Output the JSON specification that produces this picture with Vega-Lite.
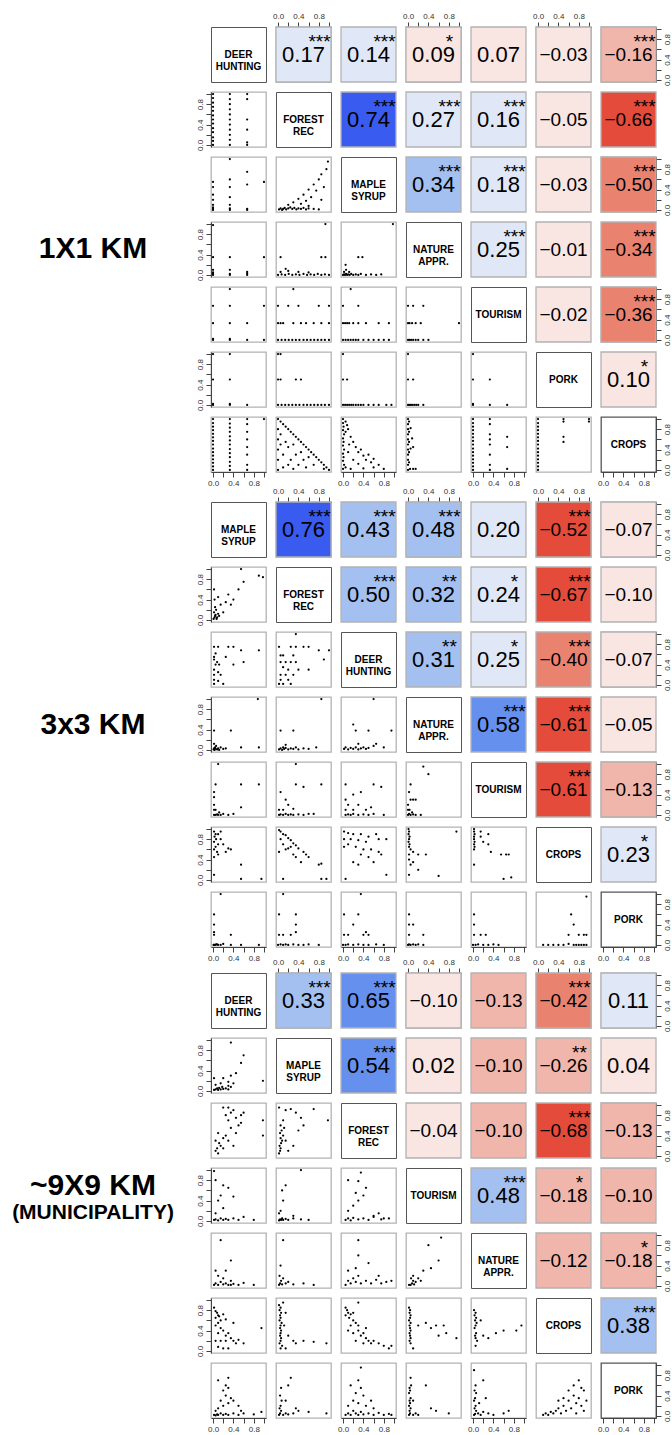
{
"$schema":"https://vega.github.io/schema/vega-lite/v6.json",
"padding":{"left":5,"top":11,"right":5,"bottom":0},
"config":{
"font":"Liberation Sans",
"view":{"continuousWidth":55,"continuousHeight":55,"discreteWidth":55,"discreteHeight":55,"stroke":"#b3b3b3","strokeWidth":1.3,"fill":"white"},
"axis":{"disable":true,"grid":false,"tickCount":6,"labelFontSize":8,"labelColor":"#333","tickColor":"#444","domainColor":"#444","tickSize":5,"labelPadding":2,"labelFlush":false},
"axisY":{"labelAngle":-90,"labelAlign":"center"},
"axisLeft":{"labelBaseline":"bottom"},
"axisRight":{"labelBaseline":"top"},
"legend":{"disable":true},
"rect":{"stroke":"#b3b3b3","strokeWidth":1.3},
"circle":{"size":5,"color":"#000","opacity":1},
"style":{
"vp":{"fontSize":22},
"vn":{"fontSize":19},
"st":{"fontSize":19,"dx":16,"dy":-13},
"lb":{"fontSize":10,"fontWeight":"bold","lineBreak":"\n","lineHeight":12},
"big":{"fontSize":30,"fontWeight":"bold"},
"sub":{"fontSize":21,"fontWeight":"bold","dy":27}
}
},
"datasets":{
"a11":[{"lab":"DEER\nHUNTING"}],
"a12":[{"r":0.17,"s":"***"}],
"a13":[{"r":0.14,"s":"***"}],
"a14":[{"r":0.09,"s":"*"}],
"a15":[{"r":0.07}],
"a16":[{"r":-0.03}],
"a17":[{"r":-0.16,"s":"***"}],
"a22":[{"lab":"FOREST\nREC"}],
"a23":[{"r":0.74,"s":"***"}],
"a24":[{"r":0.27,"s":"***"}],
"a25":[{"r":0.16,"s":"***"}],
"a26":[{"r":-0.05}],
"a27":[{"r":-0.66,"s":"***"}],
"a33":[{"lab":"MAPLE\nSYRUP"}],
"a34":[{"r":0.34,"s":"***"}],
"a35":[{"r":0.18,"s":"***"}],
"a36":[{"r":-0.03}],
"a37":[{"r":-0.497,"s":"***"}],
"a44":[{"lab":"NATURE\nAPPR."}],
"a45":[{"r":0.25,"s":"***"}],
"a46":[{"r":-0.01}],
"a47":[{"r":-0.34,"s":"***"}],
"a55":[{"lab":"TOURISM"}],
"a56":[{"r":-0.02}],
"a57":[{"r":-0.36,"s":"***"}],
"a66":[{"lab":"PORK"}],
"a67":[{"r":0.098,"s":"*"}],
"a77":[{"lab":"CROPS"}],
"b11":[{"lab":"MAPLE\nSYRUP"}],
"b12":[{"r":0.76,"s":"***"}],
"b13":[{"r":0.43,"s":"***"}],
"b14":[{"r":0.48,"s":"***"}],
"b15":[{"r":0.2,"s":"."}],
"b16":[{"r":-0.52,"s":"***"}],
"b17":[{"r":-0.07}],
"b22":[{"lab":"FOREST\nREC"}],
"b23":[{"r":0.497,"s":"***"}],
"b24":[{"r":0.32,"s":"**"}],
"b25":[{"r":0.24,"s":"*"}],
"b26":[{"r":-0.67,"s":"***"}],
"b27":[{"r":-0.098}],
"b33":[{"lab":"DEER\nHUNTING"}],
"b34":[{"r":0.31,"s":"**"}],
"b35":[{"r":0.25,"s":"*"}],
"b36":[{"r":-0.4,"s":"***"}],
"b37":[{"r":-0.07}],
"b44":[{"lab":"NATURE\nAPPR."}],
"b45":[{"r":0.58,"s":"***"}],
"b46":[{"r":-0.61,"s":"***"}],
"b47":[{"r":-0.05}],
"b55":[{"lab":"TOURISM"}],
"b56":[{"r":-0.61,"s":"***"}],
"b57":[{"r":-0.13}],
"b66":[{"lab":"CROPS"}],
"b67":[{"r":0.23,"s":"*"}],
"b77":[{"lab":"PORK"}],
"c11":[{"lab":"DEER\nHUNTING"}],
"c12":[{"r":0.33,"s":"***"}],
"c13":[{"r":0.65,"s":"***"}],
"c14":[{"r":-0.098}],
"c15":[{"r":-0.13}],
"c16":[{"r":-0.42,"s":"***"}],
"c17":[{"r":0.11}],
"c22":[{"lab":"MAPLE\nSYRUP"}],
"c23":[{"r":0.54,"s":"***"}],
"c24":[{"r":0.02}],
"c25":[{"r":-0.102}],
"c26":[{"r":-0.26,"s":"**"}],
"c27":[{"r":0.04}],
"c33":[{"lab":"FOREST\nREC"}],
"c34":[{"r":-0.04}],
"c35":[{"r":-0.102}],
"c36":[{"r":-0.68,"s":"***"}],
"c37":[{"r":-0.13}],
"c44":[{"lab":"TOURISM"}],
"c45":[{"r":0.48,"s":"***"}],
"c46":[{"r":-0.18,"s":"*"}],
"c47":[{"r":-0.102}],
"c55":[{"lab":"NATURE\nAPPR."}],
"c56":[{"r":-0.12}],
"c57":[{"r":-0.18,"s":"*"}],
"c66":[{"lab":"CROPS"}],
"c67":[{"r":0.38,"s":"***"}],
"c77":[{"lab":"PORK"}],
"a21":[{"x":0,"y":0},{"x":0,"y":0.08},{"x":0,"y":0.15},{"x":0,"y":0.25},{"x":0,"y":0.33},{"x":0,"y":0.42},{"x":0,"y":0.5},{"x":0,"y":0.58},{"x":0,"y":0.67},{"x":0,"y":0.75},{"x":0,"y":0.83},{"x":0,"y":0.92},{"x":0,"y":1},{"x":0.33,"y":0},{"x":0.33,"y":0.1},{"x":0.33,"y":0.2},{"x":0.33,"y":0.3},{"x":0.33,"y":0.4},{"x":0.33,"y":0.5},{"x":0.33,"y":0.6},{"x":0.33,"y":0.7},{"x":0.33,"y":0.8},{"x":0.33,"y":0.9},{"x":0.33,"y":1},{"x":0.67,"y":0},{"x":0.67,"y":0.05},{"x":0.67,"y":0.3},{"x":0.67,"y":0.5},{"x":0.67,"y":0.9},{"x":0.67,"y":1}],
"a31":[{"x":0,"y":0},{"x":0,"y":0.02},{"x":0,"y":0.05},{"x":0,"y":0.1},{"x":0,"y":0.2},{"x":0,"y":0.3},{"x":0,"y":0.45},{"x":0,"y":0.55},{"x":0.33,"y":0},{"x":0.33,"y":0.03},{"x":0.33,"y":0.1},{"x":0.33,"y":0.25},{"x":0.33,"y":0.45},{"x":0.33,"y":0.6},{"x":0.33,"y":1},{"x":0.67,"y":0},{"x":0.67,"y":0.02},{"x":0.67,"y":0.5},{"x":0.67,"y":0.75},{"x":1,"y":0.55}],
"a32":[{"x":0.02,"y":0.01},{"x":0.05,"y":0.03},{"x":0.08,"y":0},{"x":0.1,"y":0.02},{"x":0.13,"y":0.04},{"x":0.16,"y":0.01},{"x":0.2,"y":0.03},{"x":0.24,"y":0.05},{"x":0.28,"y":0.02},{"x":0.32,"y":0.04},{"x":0.36,"y":0.01},{"x":0.4,"y":0.03},{"x":0.45,"y":0.02},{"x":0.5,"y":0.04},{"x":0.55,"y":0.01},{"x":0.6,"y":0.03},{"x":0.7,"y":0.02},{"x":0.8,"y":0.01},{"x":0.2,"y":0.1},{"x":0.3,"y":0.15},{"x":0.4,"y":0.22},{"x":0.45,"y":0.12},{"x":0.5,"y":0.3},{"x":0.55,"y":0.18},{"x":0.6,"y":0.4},{"x":0.65,"y":0.25},{"x":0.7,"y":0.5},{"x":0.75,"y":0.38},{"x":0.8,"y":0.6},{"x":0.85,"y":0.7},{"x":0.9,"y":0.45},{"x":0.95,"y":0.8},{"x":0.98,"y":0.95},{"x":0.85,"y":0.2},{"x":0.6,"y":0.08}],
"a41":[{"x":0,"y":0},{"x":0,"y":0.02},{"x":0,"y":0.05},{"x":0,"y":0.1},{"x":0,"y":0.35},{"x":0,"y":0.98},{"x":0.33,"y":0},{"x":0.33,"y":0.02},{"x":0.33,"y":0.1},{"x":0.33,"y":0.35},{"x":0.67,"y":0},{"x":0.67,"y":0.03},{"x":0.67,"y":0.06},{"x":1,"y":0.35}],
"a42":[{"x":0,"y":0},{"x":0.07,"y":0.01},{"x":0.14,"y":0},{"x":0.21,"y":0.02},{"x":0.28,"y":0},{"x":0.35,"y":0.01},{"x":0.42,"y":0},{"x":0.5,"y":0.02},{"x":0.57,"y":0},{"x":0.64,"y":0.01},{"x":0.71,"y":0},{"x":0.78,"y":0.02},{"x":0.85,"y":0},{"x":0.92,"y":0.01},{"x":1,"y":0},{"x":0.05,"y":0.06},{"x":0.2,"y":0.08},{"x":0.4,"y":0.06},{"x":0.6,"y":0.05},{"x":0.15,"y":0.12},{"x":0.05,"y":0.35},{"x":0.85,"y":0.35},{"x":0.93,"y":0.35},{"x":0.93,"y":1}],
"a43":[{"x":0,"y":0},{"x":0.02,"y":0.01},{"x":0.04,"y":0},{"x":0.06,"y":0.02},{"x":0.08,"y":0},{"x":0.1,"y":0.01},{"x":0.13,"y":0},{"x":0.16,"y":0.02},{"x":0.2,"y":0},{"x":0.25,"y":0.01},{"x":0.3,"y":0},{"x":0.35,"y":0.02},{"x":0.45,"y":0},{"x":0.55,"y":0.01},{"x":0.65,"y":0},{"x":0.75,"y":0.01},{"x":0.02,"y":0.06},{"x":0.06,"y":0.1},{"x":0.12,"y":0.06},{"x":0.3,"y":0.35},{"x":0.38,"y":0.35},{"x":0.05,"y":0.2},{"x":0.98,"y":1}],
"a51":[{"x":0,"y":0},{"x":0.33,"y":0},{"x":0.67,"y":0},{"x":1,"y":0},{"x":0,"y":0.02},{"x":0.33,"y":0.02},{"x":0,"y":0.33},{"x":0.33,"y":0.33},{"x":0.67,"y":0.33},{"x":0,"y":0.67},{"x":0.33,"y":0.67},{"x":1,"y":0.67},{"x":0.33,"y":1}],
"a52":[{"x":0,"y":0},{"x":0.07,"y":0},{"x":0.14,"y":0},{"x":0.21,"y":0},{"x":0.28,"y":0},{"x":0.35,"y":0},{"x":0.42,"y":0},{"x":0.5,"y":0},{"x":0.57,"y":0},{"x":0.64,"y":0},{"x":0.71,"y":0},{"x":0.78,"y":0},{"x":0.85,"y":0},{"x":0.92,"y":0},{"x":1,"y":0},{"x":0,"y":0.33},{"x":0.05,"y":0.33},{"x":0.1,"y":0.33},{"x":0.3,"y":0.33},{"x":0.45,"y":0.33},{"x":0.55,"y":0.33},{"x":0.7,"y":0.33},{"x":0.85,"y":0.33},{"x":1,"y":0.33},{"x":0,"y":0.67},{"x":0.2,"y":0.67},{"x":0.4,"y":0.67},{"x":0.8,"y":0.67},{"x":1,"y":0.67},{"x":0.3,"y":1}],
"a53":[{"x":0,"y":0},{"x":0.05,"y":0},{"x":0.1,"y":0},{"x":0.15,"y":0},{"x":0.2,"y":0},{"x":0.25,"y":0},{"x":0.3,"y":0},{"x":0.4,"y":0},{"x":0.5,"y":0},{"x":0.6,"y":0},{"x":0.7,"y":0},{"x":0.8,"y":0},{"x":0.9,"y":0},{"x":0,"y":0.33},{"x":0.04,"y":0.33},{"x":0.08,"y":0.33},{"x":0.12,"y":0.33},{"x":0.2,"y":0.33},{"x":0.3,"y":0.33},{"x":0.45,"y":0.33},{"x":0.7,"y":0.33},{"x":0.9,"y":0.33},{"x":0,"y":0.67},{"x":0.3,"y":0.67},{"x":0.15,"y":1}],
"a54":[{"x":0,"y":0},{"x":0.03,"y":0},{"x":0.06,"y":0},{"x":0.1,"y":0},{"x":0.15,"y":0},{"x":0.2,"y":0},{"x":0.3,"y":0},{"x":0.4,"y":0},{"x":0,"y":0.33},{"x":0.03,"y":0.33},{"x":0.08,"y":0.33},{"x":0.15,"y":0.33},{"x":0.25,"y":0.33},{"x":1,"y":0.33},{"x":0,"y":0.67},{"x":0.1,"y":0.67},{"x":0.3,"y":0.67}],
"a61":[{"x":0,"y":0},{"x":0,"y":0.02},{"x":0.33,"y":0},{"x":0.33,"y":0.02},{"x":0.67,"y":0},{"x":0,"y":0.5},{"x":0.33,"y":0.5},{"x":0,"y":1},{"x":0.33,"y":1}],
"a62":[{"x":0,"y":0},{"x":0.07,"y":0},{"x":0.14,"y":0},{"x":0.21,"y":0},{"x":0.28,"y":0},{"x":0.35,"y":0},{"x":0.42,"y":0},{"x":0.5,"y":0},{"x":0.57,"y":0},{"x":0.64,"y":0},{"x":0.71,"y":0},{"x":0.78,"y":0},{"x":0.85,"y":0},{"x":0.92,"y":0},{"x":1,"y":0},{"x":0,"y":0.5},{"x":0.05,"y":0.5},{"x":0.35,"y":0.5},{"x":0.45,"y":0.5},{"x":0,"y":1},{"x":0.05,"y":1}],
"a63":[{"x":0,"y":0},{"x":0.04,"y":0},{"x":0.08,"y":0},{"x":0.12,"y":0},{"x":0.16,"y":0},{"x":0.2,"y":0},{"x":0.25,"y":0},{"x":0.3,"y":0},{"x":0.35,"y":0},{"x":0.4,"y":0},{"x":0.5,"y":0},{"x":0.6,"y":0},{"x":0.7,"y":0},{"x":0.85,"y":0},{"x":0.95,"y":0},{"x":0,"y":0.5},{"x":0.08,"y":0.5},{"x":0,"y":1}],
"a64":[{"x":0,"y":0},{"x":0.02,"y":0},{"x":0.05,"y":0},{"x":0.08,"y":0},{"x":0.12,"y":0},{"x":0.16,"y":0},{"x":0.2,"y":0},{"x":0.3,"y":0},{"x":0,"y":0.5},{"x":0.1,"y":0.5},{"x":0,"y":1}],
"a65":[{"x":0,"y":0},{"x":0,"y":0.02},{"x":0.33,"y":0},{"x":0.67,"y":0},{"x":0,"y":0.5},{"x":0.33,"y":0.5},{"x":0,"y":1}],
"a71":[{"x":0,"y":0},{"x":0,"y":0.07},{"x":0,"y":0.14},{"x":0,"y":0.21},{"x":0,"y":0.28},{"x":0,"y":0.35},{"x":0,"y":0.42},{"x":0,"y":0.5},{"x":0,"y":0.57},{"x":0,"y":0.64},{"x":0,"y":0.71},{"x":0,"y":0.78},{"x":0,"y":0.85},{"x":0,"y":0.92},{"x":0,"y":1},{"x":0.33,"y":0},{"x":0.33,"y":0.08},{"x":0.33,"y":0.16},{"x":0.33,"y":0.25},{"x":0.33,"y":0.33},{"x":0.33,"y":0.41},{"x":0.33,"y":0.5},{"x":0.33,"y":0.58},{"x":0.33,"y":0.66},{"x":0.33,"y":0.75},{"x":0.33,"y":0.83},{"x":0.33,"y":0.91},{"x":0.33,"y":1},{"x":0.67,"y":0},{"x":0.67,"y":0.1},{"x":0.67,"y":0.3},{"x":0.67,"y":0.45},{"x":0.67,"y":0.6},{"x":0.67,"y":0.75},{"x":0.67,"y":0.9},{"x":0.67,"y":1},{"x":1,"y":1}],
"a72":[{"x":0,"y":1},{"x":0.05,"y":0.95},{"x":0.1,"y":0.9},{"x":0.15,"y":0.85},{"x":0.2,"y":0.8},{"x":0.25,"y":0.75},{"x":0.3,"y":0.7},{"x":0.35,"y":0.65},{"x":0.4,"y":0.6},{"x":0.45,"y":0.55},{"x":0.5,"y":0.5},{"x":0.55,"y":0.45},{"x":0.6,"y":0.4},{"x":0.65,"y":0.35},{"x":0.7,"y":0.3},{"x":0.75,"y":0.25},{"x":0.8,"y":0.2},{"x":0.85,"y":0.15},{"x":0.9,"y":0.1},{"x":0.95,"y":0.05},{"x":1,"y":0},{"x":0,"y":0.8},{"x":0,"y":0.6},{"x":0,"y":0.4},{"x":0,"y":0.2},{"x":0,"y":0},{"x":0.05,"y":0.7},{"x":0.1,"y":0.3},{"x":0.15,"y":0.55},{"x":0.2,"y":0.45},{"x":0.25,"y":0.2},{"x":0.3,"y":0.5},{"x":0.35,"y":0.3},{"x":0.4,"y":0.1},{"x":0.45,"y":0.35},{"x":0.5,"y":0.2},{"x":0.55,"y":0.05},{"x":0.6,"y":0.25},{"x":0.7,"y":0.1},{"x":0.1,"y":0.05},{"x":0.2,"y":0.1},{"x":0.3,"y":0.02},{"x":0.9,"y":0.02},{"x":0.05,"y":0.5}],
"a73":[{"x":0,"y":1},{"x":0,"y":0.92},{"x":0.01,"y":0.85},{"x":0,"y":0.78},{"x":0.02,"y":0.7},{"x":0,"y":0.62},{"x":0.01,"y":0.55},{"x":0,"y":0.48},{"x":0.02,"y":0.4},{"x":0,"y":0.32},{"x":0.01,"y":0.25},{"x":0,"y":0.18},{"x":0.02,"y":0.1},{"x":0,"y":0.02},{"x":0.05,"y":0.95},{"x":0.08,"y":0.88},{"x":0.05,"y":0.75},{"x":0.1,"y":0.8},{"x":0.15,"y":0.65},{"x":0.12,"y":0.5},{"x":0.2,"y":0.55},{"x":0.25,"y":0.45},{"x":0.3,"y":0.35},{"x":0.35,"y":0.4},{"x":0.4,"y":0.28},{"x":0.45,"y":0.2},{"x":0.5,"y":0.3},{"x":0.55,"y":0.15},{"x":0.6,"y":0.22},{"x":0.7,"y":0.1},{"x":0.2,"y":0.2},{"x":0.3,"y":0.12},{"x":0.1,"y":0.35},{"x":0.05,"y":0.05},{"x":0.15,"y":0.02},{"x":0.4,"y":0.03},{"x":0.8,"y":0.02},{"x":0.6,"y":0.05}],
"a74":[{"x":0,"y":1},{"x":0,"y":0.9},{"x":0,"y":0.8},{"x":0,"y":0.7},{"x":0,"y":0.6},{"x":0,"y":0.5},{"x":0,"y":0.4},{"x":0,"y":0.3},{"x":0,"y":0.2},{"x":0,"y":0.1},{"x":0,"y":0},{"x":0.02,"y":0.95},{"x":0.02,"y":0.75},{"x":0.02,"y":0.55},{"x":0.02,"y":0.35},{"x":0.02,"y":0.15},{"x":0.05,"y":0.42},{"x":0.1,"y":0.45},{"x":0.08,"y":0.62},{"x":0.1,"y":0.02},{"x":0.15,"y":0.02},{"x":0.05,"y":0.82},{"x":0.04,"y":0.02}],
"a75":[{"x":0,"y":0},{"x":0,"y":0.07},{"x":0,"y":0.14},{"x":0,"y":0.21},{"x":0,"y":0.28},{"x":0,"y":0.35},{"x":0,"y":0.42},{"x":0,"y":0.5},{"x":0,"y":0.57},{"x":0,"y":0.64},{"x":0,"y":0.71},{"x":0,"y":0.78},{"x":0,"y":0.85},{"x":0,"y":0.92},{"x":0,"y":1},{"x":0.33,"y":0},{"x":0.33,"y":0.1},{"x":0.33,"y":0.3},{"x":0.33,"y":0.5},{"x":0.33,"y":0.6},{"x":0.33,"y":0.7},{"x":0.33,"y":0.9},{"x":0.33,"y":1},{"x":0.67,"y":0.02},{"x":0.67,"y":0.45},{"x":0.67,"y":0.65}],
"a76":[{"x":0,"y":0},{"x":0,"y":0.07},{"x":0,"y":0.14},{"x":0,"y":0.21},{"x":0,"y":0.28},{"x":0,"y":0.35},{"x":0,"y":0.42},{"x":0,"y":0.5},{"x":0,"y":0.57},{"x":0,"y":0.64},{"x":0,"y":0.71},{"x":0,"y":0.78},{"x":0,"y":0.85},{"x":0,"y":0.92},{"x":0,"y":1},{"x":0.5,"y":0.55},{"x":0.5,"y":0.65},{"x":0.5,"y":0.95},{"x":0.5,"y":1},{"x":1,"y":0.95},{"x":1,"y":1}],
"b21":[{"x":0.01,"y":0.02},{"x":0.03,"y":0.05},{"x":0.05,"y":0.1},{"x":0.02,"y":0.15},{"x":0.06,"y":0.2},{"x":0.08,"y":0.05},{"x":0.1,"y":0.12},{"x":0.04,"y":0.25},{"x":0.12,"y":0.08},{"x":0.15,"y":0.3},{"x":0.03,"y":0.4},{"x":0.2,"y":0.15},{"x":0.25,"y":0.35},{"x":0.3,"y":0.5},{"x":0.35,"y":0.3},{"x":0.4,"y":0.4},{"x":0.5,"y":0.6},{"x":0.55,"y":1},{"x":0.6,"y":0.75},{"x":0.9,"y":0.87},{"x":0.98,"y":0.84},{"x":0.02,"y":0.6},{"x":0.1,"y":0.45},{"x":0.07,"y":0.02},{"x":0.04,"y":0.08}],
"b31":[{"x":0.02,"y":0.75},{"x":0.1,"y":0.75},{"x":0.3,"y":0.75},{"x":0.4,"y":0.75},{"x":0.55,"y":0.68},{"x":0.9,"y":0.68},{"x":0.02,"y":0.55},{"x":0.02,"y":0.5},{"x":0.08,"y":0.45},{"x":0.05,"y":0.4},{"x":0.12,"y":0.4},{"x":0.4,"y":0.4},{"x":0.02,"y":0.3},{"x":0.1,"y":0.25},{"x":0.02,"y":0.2},{"x":0.15,"y":0.2},{"x":0.02,"y":0.1},{"x":0.1,"y":0.08},{"x":0.02,"y":0.02},{"x":0.2,"y":0.02},{"x":0.6,"y":0.45},{"x":0.05,"y":0.62},{"x":0.25,"y":0.55}],
"b32":[{"x":0.02,"y":0.75},{"x":0.25,"y":0.75},{"x":0.35,"y":0.75},{"x":0.5,"y":0.75},{"x":0.6,"y":0.75},{"x":0.8,"y":0.68},{"x":1,"y":0.68},{"x":0.05,"y":0.58},{"x":0.1,"y":0.58},{"x":0.3,"y":0.58},{"x":0.05,"y":0.45},{"x":0.15,"y":0.45},{"x":0.25,"y":0.45},{"x":0.35,"y":0.45},{"x":0.1,"y":0.35},{"x":0.2,"y":0.3},{"x":0.4,"y":0.3},{"x":0.05,"y":0.2},{"x":0.15,"y":0.2},{"x":0.3,"y":0.2},{"x":0.05,"y":0.1},{"x":0.2,"y":0.1},{"x":0.02,"y":0.02},{"x":0.1,"y":0.02},{"x":0.25,"y":0.02},{"x":0.6,"y":0.3},{"x":0.9,"y":0.5},{"x":0.35,"y":1}],
"b41":[{"x":0.01,"y":0.01},{"x":0.02,"y":0.03},{"x":0.03,"y":0},{"x":0.04,"y":0.05},{"x":0.05,"y":0.02},{"x":0.06,"y":0.08},{"x":0.08,"y":0.01},{"x":0.1,"y":0.03},{"x":0.12,"y":0},{"x":0.15,"y":0.05},{"x":0.2,"y":0.02},{"x":0.25,"y":0.03},{"x":0.35,"y":0.38},{"x":0.02,"y":0.38},{"x":0.55,"y":0.05},{"x":0.9,"y":0.05},{"x":0.88,"y":1},{"x":0.02,"y":0.12}],
"b42":[{"x":0.02,"y":0.01},{"x":0.05,"y":0.03},{"x":0.08,"y":0},{"x":0.1,"y":0.05},{"x":0.12,"y":0.02},{"x":0.15,"y":0.04},{"x":0.2,"y":0.01},{"x":0.25,"y":0.03},{"x":0.3,"y":0.02},{"x":0.35,"y":0.05},{"x":0.4,"y":0.01},{"x":0.5,"y":0.03},{"x":0.6,"y":0.02},{"x":0.75,"y":0.05},{"x":0.3,"y":0.38},{"x":0.05,"y":0.38},{"x":0.85,"y":1},{"x":0.15,"y":0.1}],
"b43":[{"x":0.02,"y":0.02},{"x":0.05,"y":0.05},{"x":0.1,"y":0.01},{"x":0.15,"y":0.04},{"x":0.2,"y":0.02},{"x":0.25,"y":0.05},{"x":0.3,"y":0.01},{"x":0.35,"y":0.03},{"x":0.4,"y":0.05},{"x":0.45,"y":0.02},{"x":0.5,"y":0.04},{"x":0.6,"y":0.08},{"x":0.8,"y":0.05},{"x":0.25,"y":0.38},{"x":0.5,"y":0.38},{"x":0.2,"y":0.5},{"x":0.6,"y":1},{"x":0.95,"y":0.38},{"x":0.65,"y":0.12},{"x":0.3,"y":0.12}],
"b51":[{"x":0.02,"y":0},{"x":0.05,"y":0},{"x":0.08,"y":0.01},{"x":0.1,"y":0},{"x":0.15,"y":0},{"x":0.3,"y":0},{"x":0.4,"y":0.02},{"x":0.02,"y":0.1},{"x":0.05,"y":0.1},{"x":0.02,"y":0.2},{"x":0.02,"y":0.35},{"x":0.05,"y":0.6},{"x":0.55,"y":0.6},{"x":0.9,"y":0.6},{"x":0.55,"y":0.15},{"x":0.1,"y":1},{"x":0.02,"y":0.45},{"x":0.2,"y":0.02},{"x":0.12,"y":0.05}],
"b52":[{"x":0.02,"y":0},{"x":0.05,"y":0.01},{"x":0.1,"y":0},{"x":0.15,"y":0.02},{"x":0.2,"y":0},{"x":0.25,"y":0.01},{"x":0.3,"y":0},{"x":0.4,"y":0.01},{"x":0.5,"y":0},{"x":0.6,"y":0.02},{"x":0.02,"y":0.1},{"x":0.1,"y":0.1},{"x":0.2,"y":0.2},{"x":0.15,"y":0.3},{"x":0.5,"y":0.55},{"x":0.85,"y":0.6},{"x":0.35,"y":0.6},{"x":0.35,"y":1},{"x":0.05,"y":0.45},{"x":0.3,"y":0.12},{"x":0.7,"y":0.02}],
"b53":[{"x":0.05,"y":0},{"x":0.1,"y":0.01},{"x":0.15,"y":0},{"x":0.2,"y":0.02},{"x":0.3,"y":0},{"x":0.4,"y":0.01},{"x":0.5,"y":0},{"x":0.6,"y":0.02},{"x":0.8,"y":0},{"x":0.05,"y":0.1},{"x":0.2,"y":0.1},{"x":0.3,"y":0.2},{"x":0.05,"y":0.3},{"x":0.2,"y":0.4},{"x":0.35,"y":0.45},{"x":0.6,"y":0.6},{"x":0.75,"y":0.55},{"x":0.05,"y":0.6},{"x":0.45,"y":0.1},{"x":0.55,"y":0.15},{"x":0.1,"y":0.2}],
"b54":[{"x":0,"y":0},{"x":0.02,"y":0.02},{"x":0.05,"y":0},{"x":0.1,"y":0.01},{"x":0.15,"y":0},{"x":0.25,"y":0},{"x":0,"y":0.1},{"x":0.03,"y":0.1},{"x":0,"y":0.2},{"x":0.05,"y":0.3},{"x":0.1,"y":0.3},{"x":0.15,"y":0.3},{"x":0.05,"y":0.6},{"x":0.4,"y":0.8},{"x":0.3,"y":0.95},{"x":0.02,"y":0.45},{"x":0.08,"y":0.05}],
"b61":[{"x":0.02,"y":0.95},{"x":0.05,"y":0.9},{"x":0.03,"y":0.85},{"x":0.06,"y":0.8},{"x":0.02,"y":0.75},{"x":0.1,"y":0.7},{"x":0.05,"y":0.65},{"x":0.02,"y":0.6},{"x":0.15,"y":0.8},{"x":0.2,"y":0.7},{"x":0.3,"y":0.62},{"x":0.35,"y":0.6},{"x":0.25,"y":0.55},{"x":0.1,"y":0.5},{"x":0.02,"y":0.45},{"x":0.55,"y":0.3},{"x":0.95,"y":0.02},{"x":0.55,"y":0.02},{"x":0.02,"y":0.1},{"x":0.1,"y":0.9},{"x":0.15,"y":0.95},{"x":0.08,"y":0.55}],
"b62":[{"x":0.02,"y":0.98},{"x":0.05,"y":0.95},{"x":0.1,"y":0.9},{"x":0.15,"y":0.88},{"x":0.2,"y":0.82},{"x":0.25,"y":0.78},{"x":0.3,"y":0.72},{"x":0.35,"y":0.68},{"x":0.4,"y":0.62},{"x":0.5,"y":0.55},{"x":0.55,"y":0.5},{"x":0.6,"y":0.45},{"x":0.05,"y":0.8},{"x":0.1,"y":0.7},{"x":0.15,"y":0.6},{"x":0.2,"y":0.62},{"x":0.3,"y":0.5},{"x":0.02,"y":0.55},{"x":0.8,"y":0.3},{"x":0.85,"y":0.32},{"x":0.45,"y":0.35},{"x":0.95,"y":0.02},{"x":0.85,"y":0.02},{"x":0.1,"y":0.02},{"x":0.35,"y":0.45},{"x":0.25,"y":0.65}],
"b63":[{"x":0.02,"y":0.95},{"x":0.1,"y":0.92},{"x":0.2,"y":0.9},{"x":0.35,"y":0.9},{"x":0.5,"y":0.85},{"x":0.65,"y":0.9},{"x":0.02,"y":0.8},{"x":0.15,"y":0.8},{"x":0.3,"y":0.78},{"x":0.45,"y":0.75},{"x":0.7,"y":0.8},{"x":0.85,"y":0.8},{"x":0.02,"y":0.65},{"x":0.1,"y":0.7},{"x":0.25,"y":0.65},{"x":0.4,"y":0.6},{"x":0.55,"y":0.6},{"x":0.7,"y":0.55},{"x":0.35,"y":0.5},{"x":0.5,"y":0.45},{"x":0.75,"y":0.5},{"x":0.2,"y":0.35},{"x":0.3,"y":0.3},{"x":0.05,"y":0.02},{"x":0.85,"y":0.1},{"x":0.6,"y":0.35}],
"b64":[{"x":0.01,"y":1},{"x":0.02,"y":0.95},{"x":0.01,"y":0.9},{"x":0.03,"y":0.85},{"x":0.02,"y":0.8},{"x":0.01,"y":0.75},{"x":0.03,"y":0.7},{"x":0.02,"y":0.65},{"x":0.05,"y":0.6},{"x":0.02,"y":0.5},{"x":0.2,"y":0.5},{"x":0.35,"y":0.5},{"x":0.1,"y":0.35},{"x":0.05,"y":0.3},{"x":0.2,"y":0.2},{"x":0.02,"y":0.1},{"x":0.6,"y":0.08},{"x":0.95,"y":0.95},{"x":0.1,"y":0.55},{"x":0.02,"y":0.4}],
"b65":[{"x":0.02,"y":1},{"x":0.02,"y":0.95},{"x":0.03,"y":0.9},{"x":0.02,"y":0.85},{"x":0.02,"y":0.8},{"x":0.03,"y":0.75},{"x":0.02,"y":0.7},{"x":0.03,"y":0.65},{"x":0.02,"y":0.6},{"x":0.15,"y":0.95},{"x":0.3,"y":0.9},{"x":0.15,"y":0.85},{"x":0.2,"y":0.75},{"x":0.3,"y":0.7},{"x":0.35,"y":0.55},{"x":0.55,"y":0.5},{"x":0.65,"y":0.5},{"x":0.7,"y":0.5},{"x":0.02,"y":0.3},{"x":0.6,"y":0.02},{"x":0.75,"y":0.05}],
"b71":[{"x":0.01,"y":0},{"x":0.02,"y":0},{"x":0.04,"y":0},{"x":0.06,"y":0.01},{"x":0.1,"y":0},{"x":0.15,"y":0},{"x":0.2,"y":0.02},{"x":0.35,"y":0},{"x":0.55,"y":0},{"x":0.9,"y":0},{"x":0.02,"y":0.2},{"x":0.02,"y":0.4},{"x":0.02,"y":0.6},{"x":0.35,"y":0.2},{"x":0.02,"y":0.25},{"x":0.15,"y":1},{"x":0.08,"y":0.01}],
"b72":[{"x":0,"y":0},{"x":0.05,"y":0.01},{"x":0.1,"y":0},{"x":0.15,"y":0.01},{"x":0.2,"y":0},{"x":0.3,"y":0.01},{"x":0.4,"y":0},{"x":0.5,"y":0},{"x":0.6,"y":0.01},{"x":0.8,"y":0},{"x":0.02,"y":0.2},{"x":0.1,"y":0.2},{"x":0.25,"y":0.2},{"x":0.35,"y":0.4},{"x":0.35,"y":0.25},{"x":0.35,"y":0.6},{"x":0.02,"y":0.6},{"x":0.1,"y":1}],
"b73":[{"x":0,"y":0},{"x":0.05,"y":0},{"x":0.1,"y":0.01},{"x":0.2,"y":0},{"x":0.3,"y":0.01},{"x":0.4,"y":0},{"x":0.5,"y":0},{"x":0.65,"y":0.01},{"x":0.8,"y":0},{"x":0.02,"y":0.2},{"x":0.1,"y":0.2},{"x":0.2,"y":0.4},{"x":0.3,"y":0.6},{"x":0.4,"y":0.2},{"x":0.45,"y":0.25},{"x":0.5,"y":0.2},{"x":0.35,"y":1},{"x":0.02,"y":0.6}],
"b74":[{"x":0,"y":0},{"x":0.02,"y":0.01},{"x":0.05,"y":0},{"x":0.1,"y":0.01},{"x":0.15,"y":0},{"x":0.2,"y":0.01},{"x":0.3,"y":0},{"x":0.02,"y":0.2},{"x":0.02,"y":0.4},{"x":0.02,"y":0.6},{"x":0.3,"y":0.2},{"x":0.1,"y":0.4}],
"b75":[{"x":0,"y":0},{"x":0.05,"y":0},{"x":0.1,"y":0.01},{"x":0.2,"y":0},{"x":0.3,"y":0},{"x":0.4,"y":0.01},{"x":0.5,"y":0},{"x":0.02,"y":0.6},{"x":0.02,"y":0.4},{"x":0.15,"y":0.2},{"x":0.25,"y":0.2},{"x":0.02,"y":0.2}],
"b76":[{"x":0.1,"y":0},{"x":0.2,"y":0},{"x":0.3,"y":0},{"x":0.4,"y":0},{"x":0.5,"y":0},{"x":0.6,"y":0.02},{"x":0.7,"y":0},{"x":0.75,"y":0},{"x":0.8,"y":0},{"x":0.85,"y":0},{"x":0.9,"y":0},{"x":0.95,"y":0},{"x":0.6,"y":0.2},{"x":0.8,"y":0.2},{"x":0.9,"y":0.2},{"x":0.95,"y":0.2},{"x":0.7,"y":0.4},{"x":0.65,"y":0.6},{"x":0.95,"y":0.95}],
"c21":[{"x":0.02,"y":0.02},{"x":0.05,"y":0.03},{"x":0.08,"y":0.05},{"x":0.1,"y":0.02},{"x":0.12,"y":0.06},{"x":0.15,"y":0.03},{"x":0.18,"y":0.08},{"x":0.2,"y":0.04},{"x":0.25,"y":0.05},{"x":0.3,"y":0.03},{"x":0.35,"y":0.08},{"x":0.05,"y":0.12},{"x":0.15,"y":0.15},{"x":0.3,"y":0.18},{"x":0.4,"y":0.15},{"x":0.2,"y":0.25},{"x":0.35,"y":0.3},{"x":0.45,"y":0.35},{"x":0.55,"y":0.55},{"x":0.6,"y":0.7},{"x":0.98,"y":0.2},{"x":0.35,"y":0.95},{"x":0.3,"y":0.1},{"x":0.02,"y":0.25}],
"c31":[{"x":0.05,"y":0.1},{"x":0.08,"y":0.15},{"x":0.1,"y":0.05},{"x":0.15,"y":0.2},{"x":0.12,"y":0.25},{"x":0.2,"y":0.15},{"x":0.05,"y":0.3},{"x":0.2,"y":0.35},{"x":0.25,"y":0.4},{"x":0.1,"y":0.45},{"x":0.3,"y":0.3},{"x":0.35,"y":0.55},{"x":0.3,"y":0.7},{"x":0.25,"y":0.8},{"x":0.35,"y":0.85},{"x":0.4,"y":0.9},{"x":0.2,"y":0.95},{"x":0.3,"y":0.95},{"x":0.45,"y":0.75},{"x":0.5,"y":0.6},{"x":0.55,"y":0.8},{"x":0.6,"y":0.85},{"x":0.98,"y":0.7},{"x":0.98,"y":0.4},{"x":0.4,"y":0.2},{"x":0.45,"y":0.45},{"x":0.55,"y":0.65}],
"c32":[{"x":0.02,"y":0.05},{"x":0.04,"y":0.1},{"x":0.05,"y":0.15},{"x":0.03,"y":0.2},{"x":0.06,"y":0.25},{"x":0.08,"y":0.3},{"x":0.05,"y":0.35},{"x":0.1,"y":0.4},{"x":0.04,"y":0.45},{"x":0.07,"y":0.5},{"x":0.12,"y":0.55},{"x":0.05,"y":0.6},{"x":0.1,"y":0.7},{"x":0.15,"y":0.9},{"x":0.25,"y":0.92},{"x":0.35,"y":0.85},{"x":0.45,"y":0.75},{"x":0.5,"y":0.6},{"x":0.7,"y":0.92},{"x":0.98,"y":0.7},{"x":0.2,"y":0.1},{"x":0.15,"y":0.3},{"x":0.3,"y":0.2},{"x":0.4,"y":0.5},{"x":0.02,"y":0.95}],
"c41":[{"x":0.02,"y":0.02},{"x":0.05,"y":0.03},{"x":0.1,"y":0.01},{"x":0.15,"y":0.05},{"x":0.2,"y":0.02},{"x":0.25,"y":0.04},{"x":0.3,"y":0.02},{"x":0.4,"y":0.05},{"x":0.5,"y":0.02},{"x":0.6,"y":0.08},{"x":0.8,"y":0.02},{"x":0.05,"y":0.15},{"x":0.2,"y":0.25},{"x":0.1,"y":0.4},{"x":0.15,"y":0.5},{"x":0.2,"y":0.7},{"x":0.3,"y":0.65},{"x":0.4,"y":0.48},{"x":0.05,"y":0.8},{"x":0.02,"y":0.98}],
"c42":[{"x":0.02,"y":0.01},{"x":0.04,"y":0.03},{"x":0.06,"y":0.02},{"x":0.08,"y":0.05},{"x":0.1,"y":0.02},{"x":0.15,"y":0.04},{"x":0.2,"y":0.02},{"x":0.3,"y":0.05},{"x":0.45,"y":0.03},{"x":0.6,"y":0.02},{"x":0.02,"y":0.15},{"x":0.05,"y":0.2},{"x":0.1,"y":0.4},{"x":0.15,"y":0.7},{"x":0.45,"y":1},{"x":0.08,"y":0.6},{"x":0.3,"y":0.1}],
"c43":[{"x":0.05,"y":0.02},{"x":0.1,"y":0.05},{"x":0.15,"y":0.01},{"x":0.2,"y":0.06},{"x":0.3,"y":0.03},{"x":0.4,"y":0.05},{"x":0.5,"y":0.02},{"x":0.6,"y":0.08},{"x":0.75,"y":0.03},{"x":0.9,"y":0.05},{"x":0.1,"y":0.2},{"x":0.2,"y":0.3},{"x":0.3,"y":0.4},{"x":0.25,"y":0.55},{"x":0.4,"y":0.5},{"x":0.45,"y":0.65},{"x":0.3,"y":0.78},{"x":0.1,"y":0.8},{"x":0.35,"y":0.95},{"x":0.6,"y":0.1},{"x":0.7,"y":0.15},{"x":0.8,"y":0.05}],
"c51":[{"x":0.02,"y":0.02},{"x":0.05,"y":0.05},{"x":0.1,"y":0.02},{"x":0.15,"y":0.08},{"x":0.2,"y":0.03},{"x":0.25,"y":0.05},{"x":0.3,"y":0.02},{"x":0.35,"y":0.1},{"x":0.4,"y":0.04},{"x":0.5,"y":0.02},{"x":0.6,"y":0.06},{"x":0.8,"y":0.02},{"x":0.1,"y":0.2},{"x":0.2,"y":0.15},{"x":0.05,"y":0.3},{"x":0.25,"y":0.3},{"x":0.35,"y":0.5},{"x":0.15,"y":0.9},{"x":0.35,"y":0.02}],
"c52":[{"x":0.02,"y":0.02},{"x":0.04,"y":0.05},{"x":0.06,"y":0.1},{"x":0.08,"y":0.03},{"x":0.1,"y":0.15},{"x":0.03,"y":0.2},{"x":0.15,"y":0.05},{"x":0.2,"y":0.08},{"x":0.3,"y":0.03},{"x":0.5,"y":0.05},{"x":0.7,"y":0.02},{"x":0.05,"y":0.4},{"x":0.1,"y":0.9}],
"c53":[{"x":0.05,"y":0.02},{"x":0.1,"y":0.1},{"x":0.15,"y":0.05},{"x":0.2,"y":0.15},{"x":0.25,"y":0.08},{"x":0.3,"y":0.2},{"x":0.35,"y":0.05},{"x":0.45,"y":0.1},{"x":0.55,"y":0.05},{"x":0.65,"y":0.12},{"x":0.75,"y":0.05},{"x":0.85,"y":0.08},{"x":0.95,"y":0.1},{"x":0.1,"y":0.3},{"x":0.25,"y":0.35},{"x":0.3,"y":0.6},{"x":0.5,"y":0.45},{"x":0.3,"y":0.9},{"x":0.7,"y":0.2}],
"c54":[{"x":0.05,"y":0.02},{"x":0.08,"y":0.05},{"x":0.1,"y":0.1},{"x":0.12,"y":0.03},{"x":0.06,"y":0.15},{"x":0.1,"y":0.2},{"x":0.15,"y":0.08},{"x":0.2,"y":0.15},{"x":0.3,"y":0.3},{"x":0.45,"y":0.35},{"x":0.6,"y":0.5},{"x":0.4,"y":0.8},{"x":0.65,"y":0.95},{"x":0.25,"y":0.1},{"x":0.02,"y":0.02}],
"c61":[{"x":0.02,"y":0.85},{"x":0.05,"y":0.78},{"x":0.08,"y":0.75},{"x":0.1,"y":0.7},{"x":0.12,"y":0.68},{"x":0.05,"y":0.65},{"x":0.15,"y":0.6},{"x":0.2,"y":0.72},{"x":0.25,"y":0.62},{"x":0.1,"y":0.55},{"x":0.05,"y":0.5},{"x":0.15,"y":0.45},{"x":0.2,"y":0.4},{"x":0.1,"y":0.35},{"x":0.25,"y":0.3},{"x":0.3,"y":0.35},{"x":0.35,"y":0.25},{"x":0.05,"y":0.2},{"x":0.15,"y":0.2},{"x":0.25,"y":0.2},{"x":0.4,"y":0.2},{"x":0.45,"y":0.15},{"x":0.5,"y":0.22},{"x":0.6,"y":0.15},{"x":0.1,"y":0.08},{"x":0.2,"y":0.05},{"x":0.3,"y":0.05},{"x":0.95,"y":0.45},{"x":0.4,"y":0.55}],
"c62":[{"x":0.02,"y":0.9},{"x":0.05,"y":0.85},{"x":0.03,"y":0.8},{"x":0.06,"y":0.75},{"x":0.04,"y":0.7},{"x":0.05,"y":0.65},{"x":0.03,"y":0.6},{"x":0.07,"y":0.55},{"x":0.05,"y":0.5},{"x":0.04,"y":0.45},{"x":0.06,"y":0.4},{"x":0.05,"y":0.35},{"x":0.04,"y":0.3},{"x":0.06,"y":0.25},{"x":0.05,"y":0.2},{"x":0.03,"y":0.15},{"x":0.08,"y":0.1},{"x":0.05,"y":0.05},{"x":0.15,"y":0.75},{"x":0.12,"y":0.5},{"x":0.2,"y":0.3},{"x":0.3,"y":0.2},{"x":0.35,"y":0.15},{"x":0.5,"y":0.2},{"x":0.7,"y":0.18},{"x":0.95,"y":0.15},{"x":0.15,"y":0.05},{"x":0.1,"y":0.95}],
"c63":[{"x":0.05,"y":0.85},{"x":0.08,"y":0.8},{"x":0.1,"y":0.75},{"x":0.15,"y":0.72},{"x":0.2,"y":0.75},{"x":0.05,"y":0.7},{"x":0.12,"y":0.65},{"x":0.2,"y":0.6},{"x":0.25,"y":0.55},{"x":0.3,"y":0.5},{"x":0.15,"y":0.5},{"x":0.1,"y":0.4},{"x":0.2,"y":0.35},{"x":0.3,"y":0.4},{"x":0.4,"y":0.35},{"x":0.35,"y":0.3},{"x":0.45,"y":0.25},{"x":0.5,"y":0.2},{"x":0.55,"y":0.15},{"x":0.6,"y":0.2},{"x":0.7,"y":0.15},{"x":0.8,"y":0.1},{"x":0.9,"y":0.05},{"x":0.95,"y":0.1},{"x":0.25,"y":0.2},{"x":0.4,"y":0.15},{"x":0.3,"y":0.95},{"x":0.45,"y":0.45}],
"c64":[{"x":0.02,"y":0.85},{"x":0.04,"y":0.8},{"x":0.03,"y":0.75},{"x":0.05,"y":0.7},{"x":0.04,"y":0.65},{"x":0.02,"y":0.6},{"x":0.05,"y":0.55},{"x":0.03,"y":0.5},{"x":0.04,"y":0.45},{"x":0.05,"y":0.4},{"x":0.03,"y":0.35},{"x":0.04,"y":0.3},{"x":0.05,"y":0.25},{"x":0.03,"y":0.2},{"x":0.05,"y":0.15},{"x":0.1,"y":0.05},{"x":0.2,"y":0.5},{"x":0.35,"y":0.55},{"x":0.45,"y":0.45},{"x":0.55,"y":0.5},{"x":0.6,"y":0.3},{"x":0.75,"y":0.35},{"x":0.95,"y":0.25},{"x":0.7,"y":0.5}],
"c65":[{"x":0.02,"y":0.8},{"x":0.05,"y":0.75},{"x":0.03,"y":0.7},{"x":0.06,"y":0.65},{"x":0.04,"y":0.6},{"x":0.07,"y":0.55},{"x":0.05,"y":0.5},{"x":0.03,"y":0.45},{"x":0.06,"y":0.35},{"x":0.04,"y":0.3},{"x":0.05,"y":0.25},{"x":0.08,"y":0.2},{"x":0.05,"y":0.1},{"x":0.15,"y":0.6},{"x":0.2,"y":0.3},{"x":0.3,"y":0.25},{"x":0.45,"y":0.35},{"x":0.6,"y":0.4},{"x":0.85,"y":0.4},{"x":0.95,"y":0.5}],
"c71":[{"x":0.02,"y":0.02},{"x":0.05,"y":0.01},{"x":0.08,"y":0.03},{"x":0.1,"y":0.02},{"x":0.15,"y":0.05},{"x":0.2,"y":0.02},{"x":0.25,"y":0.04},{"x":0.3,"y":0.02},{"x":0.4,"y":0.05},{"x":0.5,"y":0.02},{"x":0.6,"y":0.05},{"x":0.8,"y":0.03},{"x":0.95,"y":0.08},{"x":0.05,"y":0.1},{"x":0.1,"y":0.15},{"x":0.2,"y":0.2},{"x":0.3,"y":0.25},{"x":0.15,"y":0.3},{"x":0.25,"y":0.4},{"x":0.35,"y":0.35},{"x":0.2,"y":0.5},{"x":0.3,"y":0.55},{"x":0.25,"y":0.6},{"x":0.3,"y":0.75},{"x":0.4,"y":0.3},{"x":0.1,"y":0.7},{"x":0.55,"y":0.1},{"x":0.5,"y":0.2}],
"c72":[{"x":0.02,"y":0.02},{"x":0.04,"y":0.05},{"x":0.06,"y":0.1},{"x":0.03,"y":0.15},{"x":0.05,"y":0.2},{"x":0.07,"y":0.3},{"x":0.04,"y":0.4},{"x":0.06,"y":0.55},{"x":0.1,"y":0.02},{"x":0.15,"y":0.05},{"x":0.2,"y":0.03},{"x":0.3,"y":0.05},{"x":0.4,"y":0.1},{"x":0.6,"y":0.08},{"x":0.95,"y":0.05},{"x":0.2,"y":0.6},{"x":0.15,"y":0.3},{"x":0.35,"y":0.15},{"x":0.25,"y":0.75}],
"c73":[{"x":0.05,"y":0.02},{"x":0.1,"y":0.05},{"x":0.15,"y":0.02},{"x":0.2,"y":0.1},{"x":0.25,"y":0.05},{"x":0.3,"y":0.02},{"x":0.35,"y":0.08},{"x":0.4,"y":0.03},{"x":0.5,"y":0.05},{"x":0.6,"y":0.02},{"x":0.7,"y":0.06},{"x":0.8,"y":0.02},{"x":0.9,"y":0.04},{"x":0.95,"y":0.02},{"x":0.1,"y":0.2},{"x":0.2,"y":0.3},{"x":0.3,"y":0.25},{"x":0.25,"y":0.45},{"x":0.35,"y":0.55},{"x":0.4,"y":0.4},{"x":0.45,"y":0.2},{"x":0.55,"y":0.3},{"x":0.3,"y":0.7},{"x":0.35,"y":0.95},{"x":0.15,"y":0.6},{"x":0.6,"y":0.15}],
"c74":[{"x":0.02,"y":0.02},{"x":0.04,"y":0.05},{"x":0.03,"y":0.1},{"x":0.05,"y":0.15},{"x":0.02,"y":0.2},{"x":0.04,"y":0.25},{"x":0.03,"y":0.3},{"x":0.05,"y":0.35},{"x":0.02,"y":0.45},{"x":0.04,"y":0.5},{"x":0.03,"y":0.55},{"x":0.06,"y":0.6},{"x":0.1,"y":0.02},{"x":0.15,"y":0.05},{"x":0.2,"y":0.02},{"x":0.35,"y":0.6},{"x":0.45,"y":0.15},{"x":0.55,"y":0.1},{"x":0.8,"y":0.05},{"x":0.05,"y":0.75},{"x":0.1,"y":0.3}],
"c75":[{"x":0.02,"y":0.02},{"x":0.04,"y":0.04},{"x":0.06,"y":0.1},{"x":0.03,"y":0.15},{"x":0.05,"y":0.2},{"x":0.02,"y":0.3},{"x":0.04,"y":0.35},{"x":0.06,"y":0.45},{"x":0.03,"y":0.5},{"x":0.05,"y":0.6},{"x":0.1,"y":0.05},{"x":0.15,"y":0.02},{"x":0.2,"y":0.08},{"x":0.3,"y":0.05},{"x":0.4,"y":0.02},{"x":0.6,"y":0.05},{"x":0.7,"y":0.1},{"x":0.2,"y":0.7},{"x":0.25,"y":0.35},{"x":0.12,"y":0.25},{"x":0.02,"y":0.9}],
"c76":[{"x":0.1,"y":0.02},{"x":0.15,"y":0.05},{"x":0.2,"y":0.02},{"x":0.25,"y":0.08},{"x":0.3,"y":0.05},{"x":0.35,"y":0.1},{"x":0.4,"y":0.15},{"x":0.45,"y":0.05},{"x":0.5,"y":0.2},{"x":0.55,"y":0.1},{"x":0.6,"y":0.3},{"x":0.65,"y":0.15},{"x":0.7,"y":0.4},{"x":0.75,"y":0.25},{"x":0.8,"y":0.35},{"x":0.85,"y":0.2},{"x":0.9,"y":0.5},{"x":0.7,"y":0.6},{"x":0.8,"y":0.7},{"x":0.85,"y":0.55},{"x":0.95,"y":0.3},{"x":0.6,"y":0.5},{"x":0.5,"y":0.35},{"x":0.4,"y":0.3},{"x":0.9,"y":0.1},{"x":0.75,"y":0.05}]
},
"hconcat":[
{"vconcat":[
{"data":{"values":[{"t":"1X1 KM"}]},"width":176,"height":444,"view":{"stroke":null},"mark":{"type":"text","style":"big"},"encoding":{"text":{"field":"t"}}},
{"data":{"values":[{"t":"3x3 KM"}]},"width":176,"height":477,"view":{"stroke":null},"mark":{"type":"text","style":"big"},"encoding":{"text":{"field":"t"}}},
{"data":{"values":[{"t":"~9X9 KM","u":"(MUNICIPALITY)"}]},"width":176,"height":416,"view":{"stroke":null},"layer":[{"mark":{"type":"text","style":"big"},"encoding":{"text":{"field":"t"}}},{"mark":{"type":"text","style":"sub"},"encoding":{"text":{"field":"u"}}}]}
],"spacing":15},
{"concat":[
{"data":{"name":"a11"},"view":{"stroke":"#555"},"mark":{"type":"text","style":"lb"},"encoding":{"text":{"field":"lab"}}},
{"data":{"name":"a12"},"layer":[{"mark":"rect","encoding":{"fill":{"field":"r","type":"quantitative","scale":{"type":"threshold","domain":[-0.5,-0.3,-0.1,0.1,0.3,0.5,0.7],"range":["#e54b3b","#ea8270","#f0b6ab","#f9e5e1","#e0e8f8","#a4c0f0","#6690ee","#3a5bf0"]}}}},{"mark":{"type":"text","style":"vp"},"encoding":{"text":{"field":"r","format":".2f"}}},{"mark":{"type":"text","style":"st"},"encoding":{"text":{"field":"s"}}},{"mark":{"type":"point","opacity":0},"encoding":{"x":{"datum":0.5,"type":"quantitative","axis":{"orient":"top","title":null}}}}]},
{"data":{"name":"a13"},"layer":[{"mark":"rect","encoding":{"fill":{"field":"r","type":"quantitative","scale":{"type":"threshold","domain":[-0.5,-0.3,-0.1,0.1,0.3,0.5,0.7],"range":["#e54b3b","#ea8270","#f0b6ab","#f9e5e1","#e0e8f8","#a4c0f0","#6690ee","#3a5bf0"]}}}},{"mark":{"type":"text","style":"vp"},"encoding":{"text":{"field":"r","format":".2f"}}},{"mark":{"type":"text","style":"st"},"encoding":{"text":{"field":"s"}}}]},
{"data":{"name":"a14"},"layer":[{"mark":"rect","encoding":{"fill":{"field":"r","type":"quantitative","scale":{"type":"threshold","domain":[-0.5,-0.3,-0.1,0.1,0.3,0.5,0.7],"range":["#e54b3b","#ea8270","#f0b6ab","#f9e5e1","#e0e8f8","#a4c0f0","#6690ee","#3a5bf0"]}}}},{"mark":{"type":"text","style":"vp"},"encoding":{"text":{"field":"r","format":".2f"}}},{"mark":{"type":"text","style":"st"},"encoding":{"text":{"field":"s"}}},{"mark":{"type":"point","opacity":0},"encoding":{"x":{"datum":0.5,"type":"quantitative","axis":{"orient":"top","title":null}}}}]},
{"data":{"name":"a15"},"layer":[{"mark":"rect","encoding":{"fill":{"field":"r","type":"quantitative","scale":{"type":"threshold","domain":[-0.5,-0.3,-0.1,0.1,0.3,0.5,0.7],"range":["#e54b3b","#ea8270","#f0b6ab","#f9e5e1","#e0e8f8","#a4c0f0","#6690ee","#3a5bf0"]}}}},{"mark":{"type":"text","style":"vp"},"encoding":{"text":{"field":"r","format":".2f"}}}]},
{"data":{"name":"a16"},"layer":[{"mark":"rect","encoding":{"fill":{"field":"r","type":"quantitative","scale":{"type":"threshold","domain":[-0.5,-0.3,-0.1,0.1,0.3,0.5,0.7],"range":["#e54b3b","#ea8270","#f0b6ab","#f9e5e1","#e0e8f8","#a4c0f0","#6690ee","#3a5bf0"]}}}},{"mark":{"type":"text","style":"vn"},"encoding":{"text":{"field":"r","format":".2f"}}},{"mark":{"type":"point","opacity":0},"encoding":{"x":{"datum":0.5,"type":"quantitative","axis":{"orient":"top","title":null}}}}]},
{"data":{"name":"a17"},"layer":[{"mark":"rect","encoding":{"fill":{"field":"r","type":"quantitative","scale":{"type":"threshold","domain":[-0.5,-0.3,-0.1,0.1,0.3,0.5,0.7],"range":["#e54b3b","#ea8270","#f0b6ab","#f9e5e1","#e0e8f8","#a4c0f0","#6690ee","#3a5bf0"]}}}},{"mark":{"type":"text","style":"vn"},"encoding":{"text":{"field":"r","format":".2f"}}},{"mark":{"type":"text","style":"st"},"encoding":{"text":{"field":"s"}}},{"mark":{"type":"point","opacity":0},"encoding":{"y":{"datum":0.5,"type":"quantitative","scale":{"domain":[-0.04,1.04],"nice":false},"axis":{"orient":"right","title":null}}}}]},

{"data":{"name":"a21"},"mark":"circle","encoding":{"x":{"field":"x","type":"quantitative","scale":{"domain":[-0.04,1.04],"nice":false}},"y":{"field":"y","type":"quantitative","scale":{"domain":[-0.04,1.04],"nice":false},"axis":{"title":null}}}},
{"data":{"name":"a22"},"view":{"stroke":"#555"},"mark":{"type":"text","style":"lb"},"encoding":{"text":{"field":"lab"}}},
{"data":{"name":"a23"},"layer":[{"mark":"rect","encoding":{"fill":{"field":"r","type":"quantitative","scale":{"type":"threshold","domain":[-0.5,-0.3,-0.1,0.1,0.3,0.5,0.7],"range":["#e54b3b","#ea8270","#f0b6ab","#f9e5e1","#e0e8f8","#a4c0f0","#6690ee","#3a5bf0"]}}}},{"mark":{"type":"text","style":"vp"},"encoding":{"text":{"field":"r","format":".2f"}}},{"mark":{"type":"text","style":"st"},"encoding":{"text":{"field":"s"}}}]},
{"data":{"name":"a24"},"layer":[{"mark":"rect","encoding":{"fill":{"field":"r","type":"quantitative","scale":{"type":"threshold","domain":[-0.5,-0.3,-0.1,0.1,0.3,0.5,0.7],"range":["#e54b3b","#ea8270","#f0b6ab","#f9e5e1","#e0e8f8","#a4c0f0","#6690ee","#3a5bf0"]}}}},{"mark":{"type":"text","style":"vp"},"encoding":{"text":{"field":"r","format":".2f"}}},{"mark":{"type":"text","style":"st"},"encoding":{"text":{"field":"s"}}}]},
{"data":{"name":"a25"},"layer":[{"mark":"rect","encoding":{"fill":{"field":"r","type":"quantitative","scale":{"type":"threshold","domain":[-0.5,-0.3,-0.1,0.1,0.3,0.5,0.7],"range":["#e54b3b","#ea8270","#f0b6ab","#f9e5e1","#e0e8f8","#a4c0f0","#6690ee","#3a5bf0"]}}}},{"mark":{"type":"text","style":"vp"},"encoding":{"text":{"field":"r","format":".2f"}}},{"mark":{"type":"text","style":"st"},"encoding":{"text":{"field":"s"}}}]},
{"data":{"name":"a26"},"layer":[{"mark":"rect","encoding":{"fill":{"field":"r","type":"quantitative","scale":{"type":"threshold","domain":[-0.5,-0.3,-0.1,0.1,0.3,0.5,0.7],"range":["#e54b3b","#ea8270","#f0b6ab","#f9e5e1","#e0e8f8","#a4c0f0","#6690ee","#3a5bf0"]}}}},{"mark":{"type":"text","style":"vn"},"encoding":{"text":{"field":"r","format":".2f"}}}]},
{"data":{"name":"a27"},"layer":[{"mark":"rect","encoding":{"fill":{"field":"r","type":"quantitative","scale":{"type":"threshold","domain":[-0.5,-0.3,-0.1,0.1,0.3,0.5,0.7],"range":["#e54b3b","#ea8270","#f0b6ab","#f9e5e1","#e0e8f8","#a4c0f0","#6690ee","#3a5bf0"]}}}},{"mark":{"type":"text","style":"vn"},"encoding":{"text":{"field":"r","format":".2f"}}},{"mark":{"type":"text","style":"st"},"encoding":{"text":{"field":"s"}}}]},

{"data":{"name":"a31"},"mark":"circle","encoding":{"x":{"field":"x","type":"quantitative"},"y":{"field":"y","type":"quantitative","scale":{"domain":[-0.04,1.04],"nice":false}}}},
{"data":{"name":"a32"},"mark":"circle","encoding":{"x":{"field":"x","type":"quantitative"},"y":{"field":"y","type":"quantitative","scale":{"domain":[-0.04,1.04],"nice":false}}}},
{"data":{"name":"a33"},"view":{"stroke":"#555"},"mark":{"type":"text","style":"lb"},"encoding":{"text":{"field":"lab"}}},
{"data":{"name":"a34"},"layer":[{"mark":"rect","encoding":{"fill":{"field":"r","type":"quantitative","scale":{"type":"threshold","domain":[-0.5,-0.3,-0.1,0.1,0.3,0.5,0.7],"range":["#e54b3b","#ea8270","#f0b6ab","#f9e5e1","#e0e8f8","#a4c0f0","#6690ee","#3a5bf0"]}}}},{"mark":{"type":"text","style":"vp"},"encoding":{"text":{"field":"r","format":".2f"}}},{"mark":{"type":"text","style":"st"},"encoding":{"text":{"field":"s"}}}]},
{"data":{"name":"a35"},"layer":[{"mark":"rect","encoding":{"fill":{"field":"r","type":"quantitative","scale":{"type":"threshold","domain":[-0.5,-0.3,-0.1,0.1,0.3,0.5,0.7],"range":["#e54b3b","#ea8270","#f0b6ab","#f9e5e1","#e0e8f8","#a4c0f0","#6690ee","#3a5bf0"]}}}},{"mark":{"type":"text","style":"vp"},"encoding":{"text":{"field":"r","format":".2f"}}},{"mark":{"type":"text","style":"st"},"encoding":{"text":{"field":"s"}}}]},
{"data":{"name":"a36"},"layer":[{"mark":"rect","encoding":{"fill":{"field":"r","type":"quantitative","scale":{"type":"threshold","domain":[-0.5,-0.3,-0.1,0.1,0.3,0.5,0.7],"range":["#e54b3b","#ea8270","#f0b6ab","#f9e5e1","#e0e8f8","#a4c0f0","#6690ee","#3a5bf0"]}}}},{"mark":{"type":"text","style":"vn"},"encoding":{"text":{"field":"r","format":".2f"}}}]},
{"data":{"name":"a37"},"layer":[{"mark":"rect","encoding":{"fill":{"field":"r","type":"quantitative","scale":{"type":"threshold","domain":[-0.5,-0.3,-0.1,0.1,0.3,0.5,0.7],"range":["#e54b3b","#ea8270","#f0b6ab","#f9e5e1","#e0e8f8","#a4c0f0","#6690ee","#3a5bf0"]}}}},{"mark":{"type":"text","style":"vn"},"encoding":{"text":{"field":"r","format":".2f"}}},{"mark":{"type":"text","style":"st"},"encoding":{"text":{"field":"s"}}},{"mark":{"type":"point","opacity":0},"encoding":{"y":{"datum":0.5,"type":"quantitative","scale":{"domain":[-0.04,1.04],"nice":false},"axis":{"orient":"right","title":null}}}}]},

{"data":{"name":"a41"},"mark":"circle","encoding":{"x":{"field":"x","type":"quantitative"},"y":{"field":"y","type":"quantitative","scale":{"domain":[-0.04,1.04],"nice":false},"axis":{"title":null}}}},
{"data":{"name":"a42"},"mark":"circle","encoding":{"x":{"field":"x","type":"quantitative"},"y":{"field":"y","type":"quantitative","scale":{"domain":[-0.04,1.04],"nice":false}}}},
{"data":{"name":"a43"},"mark":"circle","encoding":{"x":{"field":"x","type":"quantitative"},"y":{"field":"y","type":"quantitative","scale":{"domain":[-0.04,1.04],"nice":false}}}},
{"data":{"name":"a44"},"view":{"stroke":"#555"},"mark":{"type":"text","style":"lb"},"encoding":{"text":{"field":"lab"}}},
{"data":{"name":"a45"},"layer":[{"mark":"rect","encoding":{"fill":{"field":"r","type":"quantitative","scale":{"type":"threshold","domain":[-0.5,-0.3,-0.1,0.1,0.3,0.5,0.7],"range":["#e54b3b","#ea8270","#f0b6ab","#f9e5e1","#e0e8f8","#a4c0f0","#6690ee","#3a5bf0"]}}}},{"mark":{"type":"text","style":"vp"},"encoding":{"text":{"field":"r","format":".2f"}}},{"mark":{"type":"text","style":"st"},"encoding":{"text":{"field":"s"}}}]},
{"data":{"name":"a46"},"layer":[{"mark":"rect","encoding":{"fill":{"field":"r","type":"quantitative","scale":{"type":"threshold","domain":[-0.5,-0.3,-0.1,0.1,0.3,0.5,0.7],"range":["#e54b3b","#ea8270","#f0b6ab","#f9e5e1","#e0e8f8","#a4c0f0","#6690ee","#3a5bf0"]}}}},{"mark":{"type":"text","style":"vn"},"encoding":{"text":{"field":"r","format":".2f"}}}]},
{"data":{"name":"a47"},"layer":[{"mark":"rect","encoding":{"fill":{"field":"r","type":"quantitative","scale":{"type":"threshold","domain":[-0.5,-0.3,-0.1,0.1,0.3,0.5,0.7],"range":["#e54b3b","#ea8270","#f0b6ab","#f9e5e1","#e0e8f8","#a4c0f0","#6690ee","#3a5bf0"]}}}},{"mark":{"type":"text","style":"vn"},"encoding":{"text":{"field":"r","format":".2f"}}},{"mark":{"type":"text","style":"st"},"encoding":{"text":{"field":"s"}}}]},

{"data":{"name":"a51"},"mark":"circle","encoding":{"x":{"field":"x","type":"quantitative"},"y":{"field":"y","type":"quantitative","scale":{"domain":[-0.04,1.04],"nice":false}}}},
{"data":{"name":"a52"},"mark":"circle","encoding":{"x":{"field":"x","type":"quantitative"},"y":{"field":"y","type":"quantitative","scale":{"domain":[-0.04,1.04],"nice":false}}}},
{"data":{"name":"a53"},"mark":"circle","encoding":{"x":{"field":"x","type":"quantitative"},"y":{"field":"y","type":"quantitative","scale":{"domain":[-0.04,1.04],"nice":false}}}},
{"data":{"name":"a54"},"mark":"circle","encoding":{"x":{"field":"x","type":"quantitative"},"y":{"field":"y","type":"quantitative","scale":{"domain":[-0.04,1.04],"nice":false}}}},
{"data":{"name":"a55"},"view":{"stroke":"#555"},"mark":{"type":"text","style":"lb"},"encoding":{"text":{"field":"lab"}}},
{"data":{"name":"a56"},"layer":[{"mark":"rect","encoding":{"fill":{"field":"r","type":"quantitative","scale":{"type":"threshold","domain":[-0.5,-0.3,-0.1,0.1,0.3,0.5,0.7],"range":["#e54b3b","#ea8270","#f0b6ab","#f9e5e1","#e0e8f8","#a4c0f0","#6690ee","#3a5bf0"]}}}},{"mark":{"type":"text","style":"vn"},"encoding":{"text":{"field":"r","format":".2f"}}}]},
{"data":{"name":"a57"},"layer":[{"mark":"rect","encoding":{"fill":{"field":"r","type":"quantitative","scale":{"type":"threshold","domain":[-0.5,-0.3,-0.1,0.1,0.3,0.5,0.7],"range":["#e54b3b","#ea8270","#f0b6ab","#f9e5e1","#e0e8f8","#a4c0f0","#6690ee","#3a5bf0"]}}}},{"mark":{"type":"text","style":"vn"},"encoding":{"text":{"field":"r","format":".2f"}}},{"mark":{"type":"text","style":"st"},"encoding":{"text":{"field":"s"}}},{"mark":{"type":"point","opacity":0},"encoding":{"y":{"datum":0.5,"type":"quantitative","scale":{"domain":[-0.04,1.04],"nice":false},"axis":{"orient":"right","title":null}}}}]},

{"data":{"name":"a61"},"mark":"circle","encoding":{"x":{"field":"x","type":"quantitative"},"y":{"field":"y","type":"quantitative","scale":{"domain":[-0.04,1.04],"nice":false},"axis":{"title":null}}}},
{"data":{"name":"a62"},"mark":"circle","encoding":{"x":{"field":"x","type":"quantitative"},"y":{"field":"y","type":"quantitative","scale":{"domain":[-0.04,1.04],"nice":false}}}},
{"data":{"name":"a63"},"mark":"circle","encoding":{"x":{"field":"x","type":"quantitative"},"y":{"field":"y","type":"quantitative","scale":{"domain":[-0.04,1.04],"nice":false}}}},
{"data":{"name":"a64"},"mark":"circle","encoding":{"x":{"field":"x","type":"quantitative"},"y":{"field":"y","type":"quantitative","scale":{"domain":[-0.04,1.04],"nice":false}}}},
{"data":{"name":"a65"},"mark":"circle","encoding":{"x":{"field":"x","type":"quantitative"},"y":{"field":"y","type":"quantitative","scale":{"domain":[-0.04,1.04],"nice":false}}}},
{"data":{"name":"a66"},"view":{"stroke":"#555"},"mark":{"type":"text","style":"lb"},"encoding":{"text":{"field":"lab"}}},
{"data":{"name":"a67"},"layer":[{"mark":"rect","encoding":{"fill":{"field":"r","type":"quantitative","scale":{"type":"threshold","domain":[-0.5,-0.3,-0.1,0.1,0.3,0.5,0.7],"range":["#e54b3b","#ea8270","#f0b6ab","#f9e5e1","#e0e8f8","#a4c0f0","#6690ee","#3a5bf0"]}}}},{"mark":{"type":"text","style":"vp"},"encoding":{"text":{"field":"r","format":".2f"}}},{"mark":{"type":"text","style":"st"},"encoding":{"text":{"field":"s"}}}]},

{"data":{"name":"a71"},"mark":"circle","encoding":{"x":{"field":"x","type":"quantitative","axis":{"title":null}},"y":{"field":"y","type":"quantitative","scale":{"domain":[-0.04,1.04],"nice":false}}}},
{"data":{"name":"a72"},"mark":"circle","encoding":{"x":{"field":"x","type":"quantitative"},"y":{"field":"y","type":"quantitative","scale":{"domain":[-0.04,1.04],"nice":false}}}},
{"data":{"name":"a73"},"mark":"circle","encoding":{"x":{"field":"x","type":"quantitative","axis":{"title":null}},"y":{"field":"y","type":"quantitative","scale":{"domain":[-0.04,1.04],"nice":false}}}},
{"data":{"name":"a74"},"mark":"circle","encoding":{"x":{"field":"x","type":"quantitative"},"y":{"field":"y","type":"quantitative","scale":{"domain":[-0.04,1.04],"nice":false}}}},
{"data":{"name":"a75"},"mark":"circle","encoding":{"x":{"field":"x","type":"quantitative","axis":{"title":null}},"y":{"field":"y","type":"quantitative","scale":{"domain":[-0.04,1.04],"nice":false}}}},
{"data":{"name":"a76"},"mark":"circle","encoding":{"x":{"field":"x","type":"quantitative"},"y":{"field":"y","type":"quantitative","scale":{"domain":[-0.04,1.04],"nice":false}}}},
{"data":{"name":"a77"},"view":{"stroke":"#555"},"layer":[{"mark":{"type":"text","style":"lb"},"encoding":{"text":{"field":"lab"}}},{"mark":{"type":"point","opacity":0},"encoding":{"x":{"datum":0.5,"type":"quantitative","axis":{"title":null}},"y":{"datum":0.5,"type":"quantitative","scale":{"domain":[-0.04,1.04],"nice":false},"axis":{"orient":"right","title":null}}}}]},

{"data":{"values":[]},"mark":"text","height":10,"view":{"stroke":null}},
{"data":{"values":[]},"mark":"text","height":10,"view":{"stroke":null}},
{"data":{"values":[]},"mark":"text","height":10,"view":{"stroke":null}},
{"data":{"values":[]},"mark":"text","height":10,"view":{"stroke":null}},
{"data":{"values":[]},"mark":"text","height":10,"view":{"stroke":null}},
{"data":{"values":[]},"mark":"text","height":10,"view":{"stroke":null}},
{"data":{"values":[]},"mark":"text","height":10,"view":{"stroke":null}},

{"data":{"name":"b11"},"view":{"stroke":"#555"},"mark":{"type":"text","style":"lb"},"encoding":{"text":{"field":"lab"}}},
{"data":{"name":"b12"},"layer":[{"mark":"rect","encoding":{"fill":{"field":"r","type":"quantitative","scale":{"type":"threshold","domain":[-0.5,-0.3,-0.1,0.1,0.3,0.5,0.7],"range":["#e54b3b","#ea8270","#f0b6ab","#f9e5e1","#e0e8f8","#a4c0f0","#6690ee","#3a5bf0"]}}}},{"mark":{"type":"text","style":"vp"},"encoding":{"text":{"field":"r","format":".2f"}}},{"mark":{"type":"text","style":"st"},"encoding":{"text":{"field":"s"}}},{"mark":{"type":"point","opacity":0},"encoding":{"x":{"datum":0.5,"type":"quantitative","axis":{"orient":"top","title":null}}}}]},
{"data":{"name":"b13"},"layer":[{"mark":"rect","encoding":{"fill":{"field":"r","type":"quantitative","scale":{"type":"threshold","domain":[-0.5,-0.3,-0.1,0.1,0.3,0.5,0.7],"range":["#e54b3b","#ea8270","#f0b6ab","#f9e5e1","#e0e8f8","#a4c0f0","#6690ee","#3a5bf0"]}}}},{"mark":{"type":"text","style":"vp"},"encoding":{"text":{"field":"r","format":".2f"}}},{"mark":{"type":"text","style":"st"},"encoding":{"text":{"field":"s"}}}]},
{"data":{"name":"b14"},"layer":[{"mark":"rect","encoding":{"fill":{"field":"r","type":"quantitative","scale":{"type":"threshold","domain":[-0.5,-0.3,-0.1,0.1,0.3,0.5,0.7],"range":["#e54b3b","#ea8270","#f0b6ab","#f9e5e1","#e0e8f8","#a4c0f0","#6690ee","#3a5bf0"]}}}},{"mark":{"type":"text","style":"vp"},"encoding":{"text":{"field":"r","format":".2f"}}},{"mark":{"type":"text","style":"st"},"encoding":{"text":{"field":"s"}}},{"mark":{"type":"point","opacity":0},"encoding":{"x":{"datum":0.5,"type":"quantitative","axis":{"orient":"top","title":null}}}}]},
{"data":{"name":"b15"},"layer":[{"mark":"rect","encoding":{"fill":{"field":"r","type":"quantitative","scale":{"type":"threshold","domain":[-0.5,-0.3,-0.1,0.1,0.3,0.5,0.7],"range":["#e54b3b","#ea8270","#f0b6ab","#f9e5e1","#e0e8f8","#a4c0f0","#6690ee","#3a5bf0"]}}}},{"mark":{"type":"text","style":"vp"},"encoding":{"text":{"field":"r","format":".2f"}}},{"mark":{"type":"text","style":"st"},"encoding":{"text":{"field":"s"}}}]},
{"data":{"name":"b16"},"layer":[{"mark":"rect","encoding":{"fill":{"field":"r","type":"quantitative","scale":{"type":"threshold","domain":[-0.5,-0.3,-0.1,0.1,0.3,0.5,0.7],"range":["#e54b3b","#ea8270","#f0b6ab","#f9e5e1","#e0e8f8","#a4c0f0","#6690ee","#3a5bf0"]}}}},{"mark":{"type":"text","style":"vn"},"encoding":{"text":{"field":"r","format":".2f"}}},{"mark":{"type":"text","style":"st"},"encoding":{"text":{"field":"s"}}},{"mark":{"type":"point","opacity":0},"encoding":{"x":{"datum":0.5,"type":"quantitative","axis":{"orient":"top","title":null}}}}]},
{"data":{"name":"b17"},"layer":[{"mark":"rect","encoding":{"fill":{"field":"r","type":"quantitative","scale":{"type":"threshold","domain":[-0.5,-0.3,-0.1,0.1,0.3,0.5,0.7],"range":["#e54b3b","#ea8270","#f0b6ab","#f9e5e1","#e0e8f8","#a4c0f0","#6690ee","#3a5bf0"]}}}},{"mark":{"type":"text","style":"vn"},"encoding":{"text":{"field":"r","format":".2f"}}},{"mark":{"type":"point","opacity":0},"encoding":{"y":{"datum":0.5,"type":"quantitative","scale":{"domain":[-0.04,1.04],"nice":false},"axis":{"orient":"right","title":null}}}}]},

{"data":{"name":"b21"},"mark":"circle","encoding":{"x":{"field":"x","type":"quantitative"},"y":{"field":"y","type":"quantitative","scale":{"domain":[-0.04,1.04],"nice":false},"axis":{"title":null}}}},
{"data":{"name":"b22"},"view":{"stroke":"#555"},"mark":{"type":"text","style":"lb"},"encoding":{"text":{"field":"lab"}}},
{"data":{"name":"b23"},"layer":[{"mark":"rect","encoding":{"fill":{"field":"r","type":"quantitative","scale":{"type":"threshold","domain":[-0.5,-0.3,-0.1,0.1,0.3,0.5,0.7],"range":["#e54b3b","#ea8270","#f0b6ab","#f9e5e1","#e0e8f8","#a4c0f0","#6690ee","#3a5bf0"]}}}},{"mark":{"type":"text","style":"vp"},"encoding":{"text":{"field":"r","format":".2f"}}},{"mark":{"type":"text","style":"st"},"encoding":{"text":{"field":"s"}}}]},
{"data":{"name":"b24"},"layer":[{"mark":"rect","encoding":{"fill":{"field":"r","type":"quantitative","scale":{"type":"threshold","domain":[-0.5,-0.3,-0.1,0.1,0.3,0.5,0.7],"range":["#e54b3b","#ea8270","#f0b6ab","#f9e5e1","#e0e8f8","#a4c0f0","#6690ee","#3a5bf0"]}}}},{"mark":{"type":"text","style":"vp"},"encoding":{"text":{"field":"r","format":".2f"}}},{"mark":{"type":"text","style":"st"},"encoding":{"text":{"field":"s"}}}]},
{"data":{"name":"b25"},"layer":[{"mark":"rect","encoding":{"fill":{"field":"r","type":"quantitative","scale":{"type":"threshold","domain":[-0.5,-0.3,-0.1,0.1,0.3,0.5,0.7],"range":["#e54b3b","#ea8270","#f0b6ab","#f9e5e1","#e0e8f8","#a4c0f0","#6690ee","#3a5bf0"]}}}},{"mark":{"type":"text","style":"vp"},"encoding":{"text":{"field":"r","format":".2f"}}},{"mark":{"type":"text","style":"st"},"encoding":{"text":{"field":"s"}}}]},
{"data":{"name":"b26"},"layer":[{"mark":"rect","encoding":{"fill":{"field":"r","type":"quantitative","scale":{"type":"threshold","domain":[-0.5,-0.3,-0.1,0.1,0.3,0.5,0.7],"range":["#e54b3b","#ea8270","#f0b6ab","#f9e5e1","#e0e8f8","#a4c0f0","#6690ee","#3a5bf0"]}}}},{"mark":{"type":"text","style":"vn"},"encoding":{"text":{"field":"r","format":".2f"}}},{"mark":{"type":"text","style":"st"},"encoding":{"text":{"field":"s"}}}]},
{"data":{"name":"b27"},"layer":[{"mark":"rect","encoding":{"fill":{"field":"r","type":"quantitative","scale":{"type":"threshold","domain":[-0.5,-0.3,-0.1,0.1,0.3,0.5,0.7],"range":["#e54b3b","#ea8270","#f0b6ab","#f9e5e1","#e0e8f8","#a4c0f0","#6690ee","#3a5bf0"]}}}},{"mark":{"type":"text","style":"vn"},"encoding":{"text":{"field":"r","format":".2f"}}}]},

{"data":{"name":"b31"},"mark":"circle","encoding":{"x":{"field":"x","type":"quantitative"},"y":{"field":"y","type":"quantitative","scale":{"domain":[-0.04,1.04],"nice":false}}}},
{"data":{"name":"b32"},"mark":"circle","encoding":{"x":{"field":"x","type":"quantitative"},"y":{"field":"y","type":"quantitative","scale":{"domain":[-0.04,1.04],"nice":false}}}},
{"data":{"name":"b33"},"view":{"stroke":"#555"},"mark":{"type":"text","style":"lb"},"encoding":{"text":{"field":"lab"}}},
{"data":{"name":"b34"},"layer":[{"mark":"rect","encoding":{"fill":{"field":"r","type":"quantitative","scale":{"type":"threshold","domain":[-0.5,-0.3,-0.1,0.1,0.3,0.5,0.7],"range":["#e54b3b","#ea8270","#f0b6ab","#f9e5e1","#e0e8f8","#a4c0f0","#6690ee","#3a5bf0"]}}}},{"mark":{"type":"text","style":"vp"},"encoding":{"text":{"field":"r","format":".2f"}}},{"mark":{"type":"text","style":"st"},"encoding":{"text":{"field":"s"}}}]},
{"data":{"name":"b35"},"layer":[{"mark":"rect","encoding":{"fill":{"field":"r","type":"quantitative","scale":{"type":"threshold","domain":[-0.5,-0.3,-0.1,0.1,0.3,0.5,0.7],"range":["#e54b3b","#ea8270","#f0b6ab","#f9e5e1","#e0e8f8","#a4c0f0","#6690ee","#3a5bf0"]}}}},{"mark":{"type":"text","style":"vp"},"encoding":{"text":{"field":"r","format":".2f"}}},{"mark":{"type":"text","style":"st"},"encoding":{"text":{"field":"s"}}}]},
{"data":{"name":"b36"},"layer":[{"mark":"rect","encoding":{"fill":{"field":"r","type":"quantitative","scale":{"type":"threshold","domain":[-0.5,-0.3,-0.1,0.1,0.3,0.5,0.7],"range":["#e54b3b","#ea8270","#f0b6ab","#f9e5e1","#e0e8f8","#a4c0f0","#6690ee","#3a5bf0"]}}}},{"mark":{"type":"text","style":"vn"},"encoding":{"text":{"field":"r","format":".2f"}}},{"mark":{"type":"text","style":"st"},"encoding":{"text":{"field":"s"}}}]},
{"data":{"name":"b37"},"layer":[{"mark":"rect","encoding":{"fill":{"field":"r","type":"quantitative","scale":{"type":"threshold","domain":[-0.5,-0.3,-0.1,0.1,0.3,0.5,0.7],"range":["#e54b3b","#ea8270","#f0b6ab","#f9e5e1","#e0e8f8","#a4c0f0","#6690ee","#3a5bf0"]}}}},{"mark":{"type":"text","style":"vn"},"encoding":{"text":{"field":"r","format":".2f"}}},{"mark":{"type":"point","opacity":0},"encoding":{"y":{"datum":0.5,"type":"quantitative","scale":{"domain":[-0.04,1.04],"nice":false},"axis":{"orient":"right","title":null}}}}]},

{"data":{"name":"b41"},"mark":"circle","encoding":{"x":{"field":"x","type":"quantitative"},"y":{"field":"y","type":"quantitative","scale":{"domain":[-0.04,1.04],"nice":false},"axis":{"title":null}}}},
{"data":{"name":"b42"},"mark":"circle","encoding":{"x":{"field":"x","type":"quantitative"},"y":{"field":"y","type":"quantitative","scale":{"domain":[-0.04,1.04],"nice":false}}}},
{"data":{"name":"b43"},"mark":"circle","encoding":{"x":{"field":"x","type":"quantitative"},"y":{"field":"y","type":"quantitative","scale":{"domain":[-0.04,1.04],"nice":false}}}},
{"data":{"name":"b44"},"view":{"stroke":"#555"},"mark":{"type":"text","style":"lb"},"encoding":{"text":{"field":"lab"}}},
{"data":{"name":"b45"},"layer":[{"mark":"rect","encoding":{"fill":{"field":"r","type":"quantitative","scale":{"type":"threshold","domain":[-0.5,-0.3,-0.1,0.1,0.3,0.5,0.7],"range":["#e54b3b","#ea8270","#f0b6ab","#f9e5e1","#e0e8f8","#a4c0f0","#6690ee","#3a5bf0"]}}}},{"mark":{"type":"text","style":"vp"},"encoding":{"text":{"field":"r","format":".2f"}}},{"mark":{"type":"text","style":"st"},"encoding":{"text":{"field":"s"}}}]},
{"data":{"name":"b46"},"layer":[{"mark":"rect","encoding":{"fill":{"field":"r","type":"quantitative","scale":{"type":"threshold","domain":[-0.5,-0.3,-0.1,0.1,0.3,0.5,0.7],"range":["#e54b3b","#ea8270","#f0b6ab","#f9e5e1","#e0e8f8","#a4c0f0","#6690ee","#3a5bf0"]}}}},{"mark":{"type":"text","style":"vn"},"encoding":{"text":{"field":"r","format":".2f"}}},{"mark":{"type":"text","style":"st"},"encoding":{"text":{"field":"s"}}}]},
{"data":{"name":"b47"},"layer":[{"mark":"rect","encoding":{"fill":{"field":"r","type":"quantitative","scale":{"type":"threshold","domain":[-0.5,-0.3,-0.1,0.1,0.3,0.5,0.7],"range":["#e54b3b","#ea8270","#f0b6ab","#f9e5e1","#e0e8f8","#a4c0f0","#6690ee","#3a5bf0"]}}}},{"mark":{"type":"text","style":"vn"},"encoding":{"text":{"field":"r","format":".2f"}}}]},

{"data":{"name":"b51"},"mark":"circle","encoding":{"x":{"field":"x","type":"quantitative"},"y":{"field":"y","type":"quantitative","scale":{"domain":[-0.04,1.04],"nice":false}}}},
{"data":{"name":"b52"},"mark":"circle","encoding":{"x":{"field":"x","type":"quantitative"},"y":{"field":"y","type":"quantitative","scale":{"domain":[-0.04,1.04],"nice":false}}}},
{"data":{"name":"b53"},"mark":"circle","encoding":{"x":{"field":"x","type":"quantitative"},"y":{"field":"y","type":"quantitative","scale":{"domain":[-0.04,1.04],"nice":false}}}},
{"data":{"name":"b54"},"mark":"circle","encoding":{"x":{"field":"x","type":"quantitative"},"y":{"field":"y","type":"quantitative","scale":{"domain":[-0.04,1.04],"nice":false}}}},
{"data":{"name":"b55"},"view":{"stroke":"#555"},"mark":{"type":"text","style":"lb"},"encoding":{"text":{"field":"lab"}}},
{"data":{"name":"b56"},"layer":[{"mark":"rect","encoding":{"fill":{"field":"r","type":"quantitative","scale":{"type":"threshold","domain":[-0.5,-0.3,-0.1,0.1,0.3,0.5,0.7],"range":["#e54b3b","#ea8270","#f0b6ab","#f9e5e1","#e0e8f8","#a4c0f0","#6690ee","#3a5bf0"]}}}},{"mark":{"type":"text","style":"vn"},"encoding":{"text":{"field":"r","format":".2f"}}},{"mark":{"type":"text","style":"st"},"encoding":{"text":{"field":"s"}}}]},
{"data":{"name":"b57"},"layer":[{"mark":"rect","encoding":{"fill":{"field":"r","type":"quantitative","scale":{"type":"threshold","domain":[-0.5,-0.3,-0.1,0.1,0.3,0.5,0.7],"range":["#e54b3b","#ea8270","#f0b6ab","#f9e5e1","#e0e8f8","#a4c0f0","#6690ee","#3a5bf0"]}}}},{"mark":{"type":"text","style":"vn"},"encoding":{"text":{"field":"r","format":".2f"}}},{"mark":{"type":"point","opacity":0},"encoding":{"y":{"datum":0.5,"type":"quantitative","scale":{"domain":[-0.04,1.04],"nice":false},"axis":{"orient":"right","title":null}}}}]},

{"data":{"name":"b61"},"mark":"circle","encoding":{"x":{"field":"x","type":"quantitative"},"y":{"field":"y","type":"quantitative","scale":{"domain":[-0.04,1.04],"nice":false},"axis":{"title":null}}}},
{"data":{"name":"b62"},"mark":"circle","encoding":{"x":{"field":"x","type":"quantitative"},"y":{"field":"y","type":"quantitative","scale":{"domain":[-0.04,1.04],"nice":false}}}},
{"data":{"name":"b63"},"mark":"circle","encoding":{"x":{"field":"x","type":"quantitative"},"y":{"field":"y","type":"quantitative","scale":{"domain":[-0.04,1.04],"nice":false}}}},
{"data":{"name":"b64"},"mark":"circle","encoding":{"x":{"field":"x","type":"quantitative"},"y":{"field":"y","type":"quantitative","scale":{"domain":[-0.04,1.04],"nice":false}}}},
{"data":{"name":"b65"},"mark":"circle","encoding":{"x":{"field":"x","type":"quantitative"},"y":{"field":"y","type":"quantitative","scale":{"domain":[-0.04,1.04],"nice":false}}}},
{"data":{"name":"b66"},"view":{"stroke":"#555"},"mark":{"type":"text","style":"lb"},"encoding":{"text":{"field":"lab"}}},
{"data":{"name":"b67"},"layer":[{"mark":"rect","encoding":{"fill":{"field":"r","type":"quantitative","scale":{"type":"threshold","domain":[-0.5,-0.3,-0.1,0.1,0.3,0.5,0.7],"range":["#e54b3b","#ea8270","#f0b6ab","#f9e5e1","#e0e8f8","#a4c0f0","#6690ee","#3a5bf0"]}}}},{"mark":{"type":"text","style":"vp"},"encoding":{"text":{"field":"r","format":".2f"}}},{"mark":{"type":"text","style":"st"},"encoding":{"text":{"field":"s"}}}]},

{"data":{"name":"b71"},"mark":"circle","encoding":{"x":{"field":"x","type":"quantitative","axis":{"title":null}},"y":{"field":"y","type":"quantitative","scale":{"domain":[-0.04,1.04],"nice":false}}}},
{"data":{"name":"b72"},"mark":"circle","encoding":{"x":{"field":"x","type":"quantitative"},"y":{"field":"y","type":"quantitative","scale":{"domain":[-0.04,1.04],"nice":false}}}},
{"data":{"name":"b73"},"mark":"circle","encoding":{"x":{"field":"x","type":"quantitative","axis":{"title":null}},"y":{"field":"y","type":"quantitative","scale":{"domain":[-0.04,1.04],"nice":false}}}},
{"data":{"name":"b74"},"mark":"circle","encoding":{"x":{"field":"x","type":"quantitative"},"y":{"field":"y","type":"quantitative","scale":{"domain":[-0.04,1.04],"nice":false}}}},
{"data":{"name":"b75"},"mark":"circle","encoding":{"x":{"field":"x","type":"quantitative","axis":{"title":null}},"y":{"field":"y","type":"quantitative","scale":{"domain":[-0.04,1.04],"nice":false}}}},
{"data":{"name":"b76"},"mark":"circle","encoding":{"x":{"field":"x","type":"quantitative"},"y":{"field":"y","type":"quantitative","scale":{"domain":[-0.04,1.04],"nice":false}}}},
{"data":{"name":"b77"},"view":{"stroke":"#555"},"layer":[{"mark":{"type":"text","style":"lb"},"encoding":{"text":{"field":"lab"}}},{"mark":{"type":"point","opacity":0},"encoding":{"x":{"datum":0.5,"type":"quantitative","axis":{"title":null}},"y":{"datum":0.5,"type":"quantitative","scale":{"domain":[-0.04,1.04],"nice":false},"axis":{"orient":"right","title":null}}}}]},

{"data":{"values":[]},"mark":"text","height":6,"view":{"stroke":null}},
{"data":{"values":[]},"mark":"text","height":6,"view":{"stroke":null}},
{"data":{"values":[]},"mark":"text","height":6,"view":{"stroke":null}},
{"data":{"values":[]},"mark":"text","height":6,"view":{"stroke":null}},
{"data":{"values":[]},"mark":"text","height":6,"view":{"stroke":null}},
{"data":{"values":[]},"mark":"text","height":6,"view":{"stroke":null}},
{"data":{"values":[]},"mark":"text","height":6,"view":{"stroke":null}},

{"data":{"name":"c11"},"view":{"stroke":"#555"},"mark":{"type":"text","style":"lb"},"encoding":{"text":{"field":"lab"}}},
{"data":{"name":"c12"},"layer":[{"mark":"rect","encoding":{"fill":{"field":"r","type":"quantitative","scale":{"type":"threshold","domain":[-0.5,-0.3,-0.1,0.1,0.3,0.5,0.7],"range":["#e54b3b","#ea8270","#f0b6ab","#f9e5e1","#e0e8f8","#a4c0f0","#6690ee","#3a5bf0"]}}}},{"mark":{"type":"text","style":"vp"},"encoding":{"text":{"field":"r","format":".2f"}}},{"mark":{"type":"text","style":"st"},"encoding":{"text":{"field":"s"}}},{"mark":{"type":"point","opacity":0},"encoding":{"x":{"datum":0.5,"type":"quantitative","axis":{"orient":"top","title":null}}}}]},
{"data":{"name":"c13"},"layer":[{"mark":"rect","encoding":{"fill":{"field":"r","type":"quantitative","scale":{"type":"threshold","domain":[-0.5,-0.3,-0.1,0.1,0.3,0.5,0.7],"range":["#e54b3b","#ea8270","#f0b6ab","#f9e5e1","#e0e8f8","#a4c0f0","#6690ee","#3a5bf0"]}}}},{"mark":{"type":"text","style":"vp"},"encoding":{"text":{"field":"r","format":".2f"}}},{"mark":{"type":"text","style":"st"},"encoding":{"text":{"field":"s"}}}]},
{"data":{"name":"c14"},"layer":[{"mark":"rect","encoding":{"fill":{"field":"r","type":"quantitative","scale":{"type":"threshold","domain":[-0.5,-0.3,-0.1,0.1,0.3,0.5,0.7],"range":["#e54b3b","#ea8270","#f0b6ab","#f9e5e1","#e0e8f8","#a4c0f0","#6690ee","#3a5bf0"]}}}},{"mark":{"type":"text","style":"vn"},"encoding":{"text":{"field":"r","format":".2f"}}},{"mark":{"type":"point","opacity":0},"encoding":{"x":{"datum":0.5,"type":"quantitative","axis":{"orient":"top","title":null}}}}]},
{"data":{"name":"c15"},"layer":[{"mark":"rect","encoding":{"fill":{"field":"r","type":"quantitative","scale":{"type":"threshold","domain":[-0.5,-0.3,-0.1,0.1,0.3,0.5,0.7],"range":["#e54b3b","#ea8270","#f0b6ab","#f9e5e1","#e0e8f8","#a4c0f0","#6690ee","#3a5bf0"]}}}},{"mark":{"type":"text","style":"vn"},"encoding":{"text":{"field":"r","format":".2f"}}}]},
{"data":{"name":"c16"},"layer":[{"mark":"rect","encoding":{"fill":{"field":"r","type":"quantitative","scale":{"type":"threshold","domain":[-0.5,-0.3,-0.1,0.1,0.3,0.5,0.7],"range":["#e54b3b","#ea8270","#f0b6ab","#f9e5e1","#e0e8f8","#a4c0f0","#6690ee","#3a5bf0"]}}}},{"mark":{"type":"text","style":"vn"},"encoding":{"text":{"field":"r","format":".2f"}}},{"mark":{"type":"text","style":"st"},"encoding":{"text":{"field":"s"}}},{"mark":{"type":"point","opacity":0},"encoding":{"x":{"datum":0.5,"type":"quantitative","axis":{"orient":"top","title":null}}}}]},
{"data":{"name":"c17"},"layer":[{"mark":"rect","encoding":{"fill":{"field":"r","type":"quantitative","scale":{"type":"threshold","domain":[-0.5,-0.3,-0.1,0.1,0.3,0.5,0.7],"range":["#e54b3b","#ea8270","#f0b6ab","#f9e5e1","#e0e8f8","#a4c0f0","#6690ee","#3a5bf0"]}}}},{"mark":{"type":"text","style":"vp"},"encoding":{"text":{"field":"r","format":".2f"}}},{"mark":{"type":"point","opacity":0},"encoding":{"y":{"datum":0.5,"type":"quantitative","scale":{"domain":[-0.04,1.04],"nice":false},"axis":{"orient":"right","title":null}}}}]},

{"data":{"name":"c21"},"mark":"circle","encoding":{"x":{"field":"x","type":"quantitative"},"y":{"field":"y","type":"quantitative","scale":{"domain":[-0.04,1.04],"nice":false},"axis":{"title":null}}}},
{"data":{"name":"c22"},"view":{"stroke":"#555"},"mark":{"type":"text","style":"lb"},"encoding":{"text":{"field":"lab"}}},
{"data":{"name":"c23"},"layer":[{"mark":"rect","encoding":{"fill":{"field":"r","type":"quantitative","scale":{"type":"threshold","domain":[-0.5,-0.3,-0.1,0.1,0.3,0.5,0.7],"range":["#e54b3b","#ea8270","#f0b6ab","#f9e5e1","#e0e8f8","#a4c0f0","#6690ee","#3a5bf0"]}}}},{"mark":{"type":"text","style":"vp"},"encoding":{"text":{"field":"r","format":".2f"}}},{"mark":{"type":"text","style":"st"},"encoding":{"text":{"field":"s"}}}]},
{"data":{"name":"c24"},"layer":[{"mark":"rect","encoding":{"fill":{"field":"r","type":"quantitative","scale":{"type":"threshold","domain":[-0.5,-0.3,-0.1,0.1,0.3,0.5,0.7],"range":["#e54b3b","#ea8270","#f0b6ab","#f9e5e1","#e0e8f8","#a4c0f0","#6690ee","#3a5bf0"]}}}},{"mark":{"type":"text","style":"vp"},"encoding":{"text":{"field":"r","format":".2f"}}}]},
{"data":{"name":"c25"},"layer":[{"mark":"rect","encoding":{"fill":{"field":"r","type":"quantitative","scale":{"type":"threshold","domain":[-0.5,-0.3,-0.1,0.1,0.3,0.5,0.7],"range":["#e54b3b","#ea8270","#f0b6ab","#f9e5e1","#e0e8f8","#a4c0f0","#6690ee","#3a5bf0"]}}}},{"mark":{"type":"text","style":"vn"},"encoding":{"text":{"field":"r","format":".2f"}}}]},
{"data":{"name":"c26"},"layer":[{"mark":"rect","encoding":{"fill":{"field":"r","type":"quantitative","scale":{"type":"threshold","domain":[-0.5,-0.3,-0.1,0.1,0.3,0.5,0.7],"range":["#e54b3b","#ea8270","#f0b6ab","#f9e5e1","#e0e8f8","#a4c0f0","#6690ee","#3a5bf0"]}}}},{"mark":{"type":"text","style":"vn"},"encoding":{"text":{"field":"r","format":".2f"}}},{"mark":{"type":"text","style":"st"},"encoding":{"text":{"field":"s"}}}]},
{"data":{"name":"c27"},"layer":[{"mark":"rect","encoding":{"fill":{"field":"r","type":"quantitative","scale":{"type":"threshold","domain":[-0.5,-0.3,-0.1,0.1,0.3,0.5,0.7],"range":["#e54b3b","#ea8270","#f0b6ab","#f9e5e1","#e0e8f8","#a4c0f0","#6690ee","#3a5bf0"]}}}},{"mark":{"type":"text","style":"vp"},"encoding":{"text":{"field":"r","format":".2f"}}}]},

{"data":{"name":"c31"},"mark":"circle","encoding":{"x":{"field":"x","type":"quantitative"},"y":{"field":"y","type":"quantitative","scale":{"domain":[-0.04,1.04],"nice":false}}}},
{"data":{"name":"c32"},"mark":"circle","encoding":{"x":{"field":"x","type":"quantitative"},"y":{"field":"y","type":"quantitative","scale":{"domain":[-0.04,1.04],"nice":false}}}},
{"data":{"name":"c33"},"view":{"stroke":"#555"},"mark":{"type":"text","style":"lb"},"encoding":{"text":{"field":"lab"}}},
{"data":{"name":"c34"},"layer":[{"mark":"rect","encoding":{"fill":{"field":"r","type":"quantitative","scale":{"type":"threshold","domain":[-0.5,-0.3,-0.1,0.1,0.3,0.5,0.7],"range":["#e54b3b","#ea8270","#f0b6ab","#f9e5e1","#e0e8f8","#a4c0f0","#6690ee","#3a5bf0"]}}}},{"mark":{"type":"text","style":"vn"},"encoding":{"text":{"field":"r","format":".2f"}}}]},
{"data":{"name":"c35"},"layer":[{"mark":"rect","encoding":{"fill":{"field":"r","type":"quantitative","scale":{"type":"threshold","domain":[-0.5,-0.3,-0.1,0.1,0.3,0.5,0.7],"range":["#e54b3b","#ea8270","#f0b6ab","#f9e5e1","#e0e8f8","#a4c0f0","#6690ee","#3a5bf0"]}}}},{"mark":{"type":"text","style":"vn"},"encoding":{"text":{"field":"r","format":".2f"}}}]},
{"data":{"name":"c36"},"layer":[{"mark":"rect","encoding":{"fill":{"field":"r","type":"quantitative","scale":{"type":"threshold","domain":[-0.5,-0.3,-0.1,0.1,0.3,0.5,0.7],"range":["#e54b3b","#ea8270","#f0b6ab","#f9e5e1","#e0e8f8","#a4c0f0","#6690ee","#3a5bf0"]}}}},{"mark":{"type":"text","style":"vn"},"encoding":{"text":{"field":"r","format":".2f"}}},{"mark":{"type":"text","style":"st"},"encoding":{"text":{"field":"s"}}}]},
{"data":{"name":"c37"},"layer":[{"mark":"rect","encoding":{"fill":{"field":"r","type":"quantitative","scale":{"type":"threshold","domain":[-0.5,-0.3,-0.1,0.1,0.3,0.5,0.7],"range":["#e54b3b","#ea8270","#f0b6ab","#f9e5e1","#e0e8f8","#a4c0f0","#6690ee","#3a5bf0"]}}}},{"mark":{"type":"text","style":"vn"},"encoding":{"text":{"field":"r","format":".2f"}}},{"mark":{"type":"point","opacity":0},"encoding":{"y":{"datum":0.5,"type":"quantitative","scale":{"domain":[-0.04,1.04],"nice":false},"axis":{"orient":"right","title":null}}}}]},

{"data":{"name":"c41"},"mark":"circle","encoding":{"x":{"field":"x","type":"quantitative"},"y":{"field":"y","type":"quantitative","scale":{"domain":[-0.04,1.04],"nice":false},"axis":{"title":null}}}},
{"data":{"name":"c42"},"mark":"circle","encoding":{"x":{"field":"x","type":"quantitative"},"y":{"field":"y","type":"quantitative","scale":{"domain":[-0.04,1.04],"nice":false}}}},
{"data":{"name":"c43"},"mark":"circle","encoding":{"x":{"field":"x","type":"quantitative"},"y":{"field":"y","type":"quantitative","scale":{"domain":[-0.04,1.04],"nice":false}}}},
{"data":{"name":"c44"},"view":{"stroke":"#555"},"mark":{"type":"text","style":"lb"},"encoding":{"text":{"field":"lab"}}},
{"data":{"name":"c45"},"layer":[{"mark":"rect","encoding":{"fill":{"field":"r","type":"quantitative","scale":{"type":"threshold","domain":[-0.5,-0.3,-0.1,0.1,0.3,0.5,0.7],"range":["#e54b3b","#ea8270","#f0b6ab","#f9e5e1","#e0e8f8","#a4c0f0","#6690ee","#3a5bf0"]}}}},{"mark":{"type":"text","style":"vp"},"encoding":{"text":{"field":"r","format":".2f"}}},{"mark":{"type":"text","style":"st"},"encoding":{"text":{"field":"s"}}}]},
{"data":{"name":"c46"},"layer":[{"mark":"rect","encoding":{"fill":{"field":"r","type":"quantitative","scale":{"type":"threshold","domain":[-0.5,-0.3,-0.1,0.1,0.3,0.5,0.7],"range":["#e54b3b","#ea8270","#f0b6ab","#f9e5e1","#e0e8f8","#a4c0f0","#6690ee","#3a5bf0"]}}}},{"mark":{"type":"text","style":"vn"},"encoding":{"text":{"field":"r","format":".2f"}}},{"mark":{"type":"text","style":"st"},"encoding":{"text":{"field":"s"}}}]},
{"data":{"name":"c47"},"layer":[{"mark":"rect","encoding":{"fill":{"field":"r","type":"quantitative","scale":{"type":"threshold","domain":[-0.5,-0.3,-0.1,0.1,0.3,0.5,0.7],"range":["#e54b3b","#ea8270","#f0b6ab","#f9e5e1","#e0e8f8","#a4c0f0","#6690ee","#3a5bf0"]}}}},{"mark":{"type":"text","style":"vn"},"encoding":{"text":{"field":"r","format":".2f"}}}]},

{"data":{"name":"c51"},"mark":"circle","encoding":{"x":{"field":"x","type":"quantitative"},"y":{"field":"y","type":"quantitative","scale":{"domain":[-0.04,1.04],"nice":false}}}},
{"data":{"name":"c52"},"mark":"circle","encoding":{"x":{"field":"x","type":"quantitative"},"y":{"field":"y","type":"quantitative","scale":{"domain":[-0.04,1.04],"nice":false}}}},
{"data":{"name":"c53"},"mark":"circle","encoding":{"x":{"field":"x","type":"quantitative"},"y":{"field":"y","type":"quantitative","scale":{"domain":[-0.04,1.04],"nice":false}}}},
{"data":{"name":"c54"},"mark":"circle","encoding":{"x":{"field":"x","type":"quantitative"},"y":{"field":"y","type":"quantitative","scale":{"domain":[-0.04,1.04],"nice":false}}}},
{"data":{"name":"c55"},"view":{"stroke":"#555"},"mark":{"type":"text","style":"lb"},"encoding":{"text":{"field":"lab"}}},
{"data":{"name":"c56"},"layer":[{"mark":"rect","encoding":{"fill":{"field":"r","type":"quantitative","scale":{"type":"threshold","domain":[-0.5,-0.3,-0.1,0.1,0.3,0.5,0.7],"range":["#e54b3b","#ea8270","#f0b6ab","#f9e5e1","#e0e8f8","#a4c0f0","#6690ee","#3a5bf0"]}}}},{"mark":{"type":"text","style":"vn"},"encoding":{"text":{"field":"r","format":".2f"}}}]},
{"data":{"name":"c57"},"layer":[{"mark":"rect","encoding":{"fill":{"field":"r","type":"quantitative","scale":{"type":"threshold","domain":[-0.5,-0.3,-0.1,0.1,0.3,0.5,0.7],"range":["#e54b3b","#ea8270","#f0b6ab","#f9e5e1","#e0e8f8","#a4c0f0","#6690ee","#3a5bf0"]}}}},{"mark":{"type":"text","style":"vn"},"encoding":{"text":{"field":"r","format":".2f"}}},{"mark":{"type":"text","style":"st"},"encoding":{"text":{"field":"s"}}},{"mark":{"type":"point","opacity":0},"encoding":{"y":{"datum":0.5,"type":"quantitative","scale":{"domain":[-0.04,1.04],"nice":false},"axis":{"orient":"right","title":null}}}}]},

{"data":{"name":"c61"},"mark":"circle","encoding":{"x":{"field":"x","type":"quantitative"},"y":{"field":"y","type":"quantitative","scale":{"domain":[-0.04,1.04],"nice":false},"axis":{"title":null}}}},
{"data":{"name":"c62"},"mark":"circle","encoding":{"x":{"field":"x","type":"quantitative"},"y":{"field":"y","type":"quantitative","scale":{"domain":[-0.04,1.04],"nice":false}}}},
{"data":{"name":"c63"},"mark":"circle","encoding":{"x":{"field":"x","type":"quantitative"},"y":{"field":"y","type":"quantitative","scale":{"domain":[-0.04,1.04],"nice":false}}}},
{"data":{"name":"c64"},"mark":"circle","encoding":{"x":{"field":"x","type":"quantitative"},"y":{"field":"y","type":"quantitative","scale":{"domain":[-0.04,1.04],"nice":false}}}},
{"data":{"name":"c65"},"mark":"circle","encoding":{"x":{"field":"x","type":"quantitative"},"y":{"field":"y","type":"quantitative","scale":{"domain":[-0.04,1.04],"nice":false}}}},
{"data":{"name":"c66"},"view":{"stroke":"#555"},"mark":{"type":"text","style":"lb"},"encoding":{"text":{"field":"lab"}}},
{"data":{"name":"c67"},"layer":[{"mark":"rect","encoding":{"fill":{"field":"r","type":"quantitative","scale":{"type":"threshold","domain":[-0.5,-0.3,-0.1,0.1,0.3,0.5,0.7],"range":["#e54b3b","#ea8270","#f0b6ab","#f9e5e1","#e0e8f8","#a4c0f0","#6690ee","#3a5bf0"]}}}},{"mark":{"type":"text","style":"vp"},"encoding":{"text":{"field":"r","format":".2f"}}},{"mark":{"type":"text","style":"st"},"encoding":{"text":{"field":"s"}}}]},

{"data":{"name":"c71"},"mark":"circle","encoding":{"x":{"field":"x","type":"quantitative","axis":{"title":null}},"y":{"field":"y","type":"quantitative","scale":{"domain":[-0.04,1.04],"nice":false}}}},
{"data":{"name":"c72"},"mark":"circle","encoding":{"x":{"field":"x","type":"quantitative"},"y":{"field":"y","type":"quantitative","scale":{"domain":[-0.04,1.04],"nice":false}}}},
{"data":{"name":"c73"},"mark":"circle","encoding":{"x":{"field":"x","type":"quantitative","axis":{"title":null}},"y":{"field":"y","type":"quantitative","scale":{"domain":[-0.04,1.04],"nice":false}}}},
{"data":{"name":"c74"},"mark":"circle","encoding":{"x":{"field":"x","type":"quantitative"},"y":{"field":"y","type":"quantitative","scale":{"domain":[-0.04,1.04],"nice":false}}}},
{"data":{"name":"c75"},"mark":"circle","encoding":{"x":{"field":"x","type":"quantitative","axis":{"title":null}},"y":{"field":"y","type":"quantitative","scale":{"domain":[-0.04,1.04],"nice":false}}}},
{"data":{"name":"c76"},"mark":"circle","encoding":{"x":{"field":"x","type":"quantitative"},"y":{"field":"y","type":"quantitative","scale":{"domain":[-0.04,1.04],"nice":false}}}},
{"data":{"name":"c77"},"view":{"stroke":"#555"},"layer":[{"mark":{"type":"text","style":"lb"},"encoding":{"text":{"field":"lab"}}},{"mark":{"type":"point","opacity":0},"encoding":{"x":{"datum":0.5,"type":"quantitative","axis":{"title":null}},"y":{"datum":0.5,"type":"quantitative","scale":{"domain":[-0.04,1.04],"nice":false},"axis":{"orient":"right","title":null}}}}]}
],"columns":7,"spacing":10,"bounds":"flush","align":"each","resolve":{"scale":{"x":"shared","y":"independent"},"axis":{"x":"independent","y":"independent"}}}
],
"spacing":14
}
